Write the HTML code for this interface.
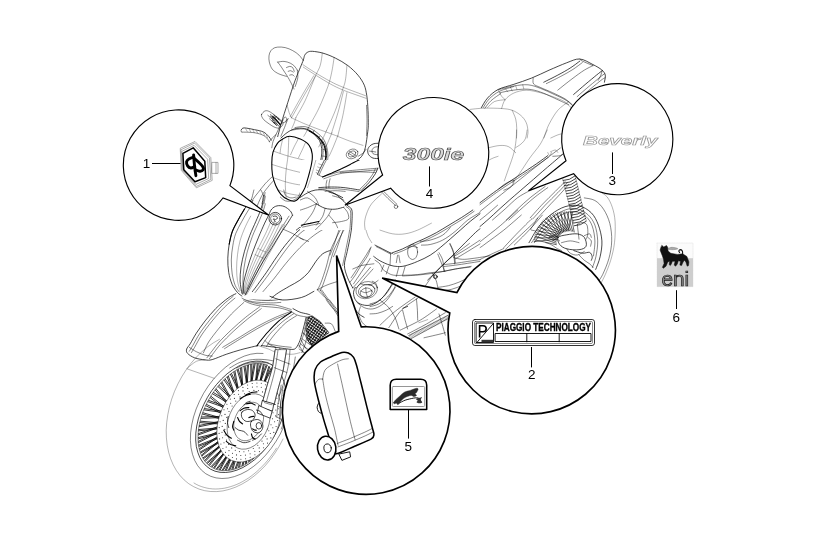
<!DOCTYPE html>
<html><head><meta charset="utf-8"><title>Plates - Emblems</title>
<style>
html,body{margin:0;padding:0;background:#fff;}
svg{display:block;}
text{font-family:"Liberation Sans",Arial,sans-serif;}
.s path,.s line,.s circle,.s ellipse,.s polyline,.s rect{fill:none;stroke:#000;stroke-width:.48;vector-effect:non-scaling-stroke;stroke-linecap:round;stroke-linejoin:round;}
.s .t{stroke-width:.3;}
.s .m{stroke-width:.72;}
.s .b{stroke-width:1.1;}
.s .w{fill:#fff;}
.s .sp{stroke-width:.78;}
.s .sr{stroke-width:.6;}
.s .dot{fill:#333;stroke:none;}
.s .g{stroke:#777;stroke-width:.6;}
.s .k{stroke:#000;stroke-width:.9;}
.s .k1{stroke:#000;stroke-width:1.55;}
.s .p{stroke:#000;stroke-width:2.9;}
.s .mesh{fill:url(#mesh);stroke:#000;stroke-width:.5;}
.s .k8{stroke:#000;stroke-width:.8;}
.s .kh{stroke:#000;stroke-width:1.5;}
.s .g2{stroke:#8a8a8a;stroke-width:.9;fill:#fff;}
.s .ic{fill:#2a2a2a;stroke:#2a2a2a;stroke-width:.4;}
.s .ic2{fill:#333;stroke:none;}
.s .pl{stroke:#000;stroke-width:.45;}
.s .pw{stroke:#000;stroke-width:1.6;fill:none;stroke-linecap:butt;stroke-linejoin:miter;}
.s .dog{fill:#111;stroke:#111;stroke-width:.5;}
.s .dogt{stroke:#111;stroke-width:1.1;}
.s .fl{stroke:#777;stroke-width:.5;fill:#aaa;}
.tx{filter:grayscale(1);}
.b300{font-style:italic;font-weight:bold;font-size:17px;fill:#d8d8d8;stroke:#4a4a4a;stroke-width:.6;}
.bev{font-style:italic;font-weight:bold;font-size:12.5px;fill:#fff;stroke:#999;stroke-width:.6;}
.pt{font-weight:bold;font-size:10.2px;fill:#000;stroke:#000;stroke-width:.35;}
.eni{font-size:20.6px;fill:#8a8a8a;stroke:#1a1a1a;stroke-width:.7;}
.co{fill:#fff;stroke:#000;stroke-width:1.15;stroke-linejoin:miter;}
.ld{stroke:#000;stroke-width:1;fill:none;}
.n{font-size:13.5px;fill:#000;text-anchor:middle;}
</style></head>
<body>
<svg width="817" height="558" viewBox="0 0 817 558">
<rect width="817" height="558" fill="#fff"/>
<g class="s">
<path class="t" d="M283 439L279.2 446.3L274.9 453.2L270.2 459.7L265.1 465.8L259.6 471.3L253.9 476.2L247.9 480.6L241.8 484.2L235.5 487.2L229.2 489.4L223 490.9L216.7 491.6L210.6 491.5L204.7 490.7L199.1 489.1L193.7 486.7L188.7 483.7L184.1 479.9L180 475.5L176.3 470.4L173.2 464.8L170.6 458.7L168.6 452.1L167.2 445.1L166.4 437.8L166.2 430.3L166.7 422.6L167.8 414.7L169.4 406.9L171.7 399.1L174.5 391.4L177.9 383.9L181.8 376.7L186.1 369.9L190.9 363.4L196.1 357.4L201.6 352L207.3 347.1L213.3 342.9L219.5 339.3"/>
<path class="t" d="M276.4 448.2L274.3 451.5L272 454.7L269.7 457.8L267.3 460.8L264.8 463.7L262.2 466.4L259.6 469L256.9 471.5L254.1 473.8L251.3 476L248.4 478.1L245.4 479.9L242.5 481.6L239.5 483.2L236.5 484.5L233.5 485.7L230.4 486.7L227.4 487.5L224.4 488.2L221.4 488.6L218.4 488.9L215.5 489L212.6 488.9L209.7 488.6L206.9 488.1L204.2 487.4L201.5 486.6L198.9 485.6L196.4 484.4L194 483"/>
<path d="M291 394.4L290.4 402.1L289.1 410L286.9 418.1L283.9 426.1L280.3 434L275.9 441.5L271 448.6L265.6 455.2L259.8 461.2L253.7 466.3L247.4 470.7L240.9 474.1L234.4 476.6L228.1 478.1L221.9 478.5L216.1 477.9L210.7 476.3L205.7 473.7L201.4 470.1L197.7 465.7L194.7 460.4L192.5 454.3L191 447.7L190.4 440.5L190.6 432.9L191.7 425L193.5 417L196.2 408.9L199.6 401L203.6 393.3L208.3 386L213.5 379.2L219.2 373L225.2 367.5L231.4 362.8L237.9 359L244.3 356.1L250.7 354.2L257 353.3L263 353.5"/>
<path class="m" d="M271.2 364.5L275.3 367.5L278.8 371.3L281.7 375.9L283.8 381.2L285.3 387.1L285.9 393.6L285.8 400.4L284.9 407.5L283.3 414.7L280.9 422L277.8 429.2L274.2 436.2L269.9 442.9L265.1 449.1L260 454.7L254.5 459.8L248.7 464L242.9 467.5L237 470.1L231.1 471.8L225.5 472.5L220 472.3L215 471.2L210.4 469.1L206.3 466.1L202.8 462.3L199.9 457.7L197.8 452.4L196.3 446.5L195.7 440L195.8 433.2L196.7 426.1L198.3 418.9L200.7 411.6L203.8 404.4L207.4 397.4L211.7 390.7L216.5 384.5L221.6 378.9L227.1 373.8L232.9 369.6L238.7 366.1L244.6 363.5L250.5 361.8L256.1 361.1L261.6 361.3L266.6 362.4L271.2 364.5"/>
<path d="M254.1 458.2L249.8 461.5L245.4 464.4L241 466.7L236.5 468.5L232.2 469.8L227.9 470.5L223.7 470.7L219.8 470.3L216 469.3L212.6 467.8L209.4 465.7L206.6 463.2L204.1 460.1L202 456.6L200.3 452.7L199.1 448.4L198.3 443.8L198 438.9L198.1 433.8L198.6 428.5L199.6 423L201.1 417.5L202.9 412L205.2 406.6L207.8 401.3L210.8 396.1L214.2 391.1L217.8 386.5L221.6 382.1L225.6 378.1L229.9 374.5L234.2 371.4L238.6 368.7L243 366.6L247.4 365L251.8 363.9L256 363.4L260.1 363.4L264 364L267.6 365.2"/>
<path class="t" d="M186.9 368.8L214.2 378.3"/>
<path class="sp" d="M248.6 428.6L259.5 452.7"/>
<path class="sp" d="M247.7 428.9L258.5 453.7"/>
<path class="sp" d="M254.1 422.8L256.4 455.7"/>
<path class="sp" d="M253.6 423.9L255.3 456.6"/>
<path class="sp" d="M247.5 429L253.2 458.5"/>
<path class="sp" d="M246.5 429.1L252.1 459.3"/>
<path class="sp" d="M253.5 424L249.9 461"/>
<path class="sp" d="M252.8 425.1L248.8 461.7"/>
<path class="sp" d="M246.4 429.1L246.5 463.2"/>
<path class="sp" d="M245.5 429L245.4 463.9"/>
<path class="sp" d="M252.7 425.2L243.1 465.1"/>
<path class="sp" d="M252 426.2L242 465.7"/>
<path class="sp" d="M245.4 429L239.7 466.8"/>
<path class="sp" d="M244.5 428.8L238.6 467.2"/>
<path class="sp" d="M251.9 426.3L236.4 468.1"/>
<path class="sp" d="M251 427.1L235.2 468.4"/>
<path class="sp" d="M244.4 428.7L233 469.1"/>
<path class="sp" d="M243.6 428.3L231.9 469.3"/>
<path class="sp" d="M250.9 427.2L229.7 469.8"/>
<path class="sp" d="M250 427.9L228.6 469.9"/>
<path class="sp" d="M243.5 428.2L226.5 470.1"/>
<path class="sp" d="M242.8 427.6L225.4 470.1"/>
<path class="sp" d="M249.8 428L223.3 470.1"/>
<path class="sp" d="M248.9 428.5L222.3 470"/>
<path class="sp" d="M242.7 427.5L220.3 469.8"/>
<path class="sp" d="M242.1 426.8L219.3 469.6"/>
<path class="sp" d="M248.7 428.6L217.4 469.1"/>
<path class="sp" d="M247.8 428.9L216.5 468.8"/>
<path class="sp" d="M242 426.7L214.6 468.1"/>
<path class="sp" d="M241.6 425.8L213.8 467.7"/>
<path class="sp" d="M247.6 428.9L212.1 466.8"/>
<path class="sp" d="M246.7 429.1L211.3 466.3"/>
<path class="sp" d="M241.5 425.6L209.7 465.2"/>
<path class="sp" d="M241.2 424.6L208.9 464.6"/>
<path class="sp" d="M246.5 429.1L207.5 463.3"/>
<path class="sp" d="M245.6 429.1L206.8 462.6"/>
<path class="sp" d="M241.2 424.5L205.5 461.1"/>
<path class="sp" d="M241 423.4L204.9 460.3"/>
<path class="sp" d="M245.5 429L203.7 458.6"/>
<path class="sp" d="M244.6 428.8L203.2 457.7"/>
<path class="sp" d="M241 423.2L202.2 455.8"/>
<path class="sp" d="M241 422.1L201.8 454.9"/>
<path class="sp" d="M244.5 428.8L200.9 452.8"/>
<path class="sp" d="M243.7 428.4L200.6 451.8"/>
<path class="sp" d="M241 421.9L199.9 449.6"/>
<path class="sp" d="M241.2 420.7L199.6 448.5"/>
<path class="sp" d="M243.5 428.3L199.1 446.2"/>
<path class="sp" d="M242.8 427.7L198.9 445"/>
<path class="sp" d="M241.2 420.5L198.6 442.6"/>
<path class="sp" d="M241.5 419.3L198.5 441.3"/>
<path class="sp" d="M242.7 427.6L198.4 438.8"/>
<path class="sp" d="M242.2 426.9L198.4 437.5"/>
<path class="sp" d="M241.5 419.2L198.4 434.9"/>
<path class="sp" d="M242 418L198.5 433.6"/>
<path class="sp" d="M242.1 426.8L198.7 430.8"/>
<path class="sp" d="M241.6 425.9L198.9 429.5"/>
<path class="sp" d="M242.1 417.9L199.3 426.7"/>
<path class="sp" d="M242.6 416.7L199.5 425.4"/>
<path class="sp" d="M241.6 425.7L200.1 422.6"/>
<path class="sp" d="M241.2 424.7L200.5 421.2"/>
<path class="sp" d="M242.7 416.6L201.2 418.4"/>
<path class="sp" d="M243.4 415.6L201.6 417"/>
<path class="sp" d="M241.2 424.6L202.6 414.1"/>
<path class="sp" d="M241 423.5L203.1 412.8"/>
<path class="sp" d="M243.5 415.4L204.2 409.9"/>
<path class="sp" d="M244.3 414.5L204.7 408.6"/>
<path class="sp" d="M241 423.4L206 405.8"/>
<path class="sp" d="M241 422.2L206.6 404.4"/>
<path class="sp" d="M244.4 414.4L208 401.7"/>
<path class="sp" d="M245.3 413.6L208.7 400.4"/>
<path class="sp" d="M241 422L210.3 397.7"/>
<path class="sp" d="M241.1 420.8L211.1 396.4"/>
<path class="sp" d="M245.4 413.5L212.7 393.9"/>
<path class="sp" d="M246.4 412.9L213.6 392.6"/>
<path class="sp" d="M241.2 420.7L215.3 390.1"/>
<path class="sp" d="M241.5 419.5L216.2 389"/>
<path class="sp" d="M246.5 412.8L218.1 386.6"/>
<path class="sp" d="M247.5 412.3L219.1 385.5"/>
<path class="sp" d="M241.5 419.3L221.1 383.2"/>
<path class="sp" d="M241.9 418.1L222.1 382.2"/>
<path class="sp" d="M247.6 412.3L224.1 380.1"/>
<path class="sp" d="M248.6 412L225.2 379.1"/>
<path class="sp" d="M242 418L227.3 377.2"/>
<path class="sp" d="M242.6 416.9L228.4 376.3"/>
<path class="sp" d="M248.7 412L230.5 374.5"/>
<path class="sp" d="M249.7 411.9L231.6 373.7"/>
<path class="sp" d="M242.7 416.7L233.9 372.1"/>
<path class="sp" d="M243.3 415.7L235 371.4"/>
<path class="sp" d="M249.8 411.9L237.2 370"/>
<path class="sp" d="M250.7 412L238.3 369.4"/>
<path class="sp" d="M243.4 415.5L240.6 368.2"/>
<path class="sp" d="M244.2 414.6L241.7 367.7"/>
<path class="sp" d="M250.8 412L244 366.7"/>
<path class="sp" d="M251.7 412.3L245.1 366.2"/>
<path class="sp" d="M244.3 414.5L247.4 365.5"/>
<path class="sp" d="M245.2 413.7L248.5 365.2"/>
<path class="sp" d="M251.8 412.4L250.7 364.6"/>
<path class="sp" d="M252.6 412.8L251.8 364.4"/>
<path class="sp" d="M245.3 413.6L254 364.1"/>
<path class="sp" d="M246.3 412.9L255.1 364"/>
<path class="sp" d="M252.7 412.9L257.2 363.9"/>
<path class="sp" d="M253.4 413.5L258.2 363.9"/>
<path class="sp" d="M246.4 412.9L260.3 364"/>
<path class="sp" d="M247.3 412.4L261.3 364.1"/>
<path class="sp" d="M253.5 413.6L263.3 364.4"/>
<path class="sp" d="M254 414.4L264.2 364.7"/>
<path class="sp" d="M247.5 412.3L266.1 365.2"/>
<path class="sp" d="M248.5 412L267 365.6"/>
<path class="sp" d="M254.1 414.5L268.8 366.4"/>
<path class="sp" d="M254.5 415.4L269.7 366.8"/>
<path class="sp" d="M248.6 412L271.3 367.8"/>
<path class="sp" d="M249.6 411.9L272.1 368.3"/>
<ellipse class="w" cx="248.9" cy="421.1" rx="29.4" ry="43" transform="rotate(24.3 248.9 421.1)"/>
<ellipse cx="248.7" cy="421.5" rx="20.2" ry="28.8" transform="rotate(22 248.7 421.5)"/>
<ellipse cx="248.7" cy="421.5" rx="14" ry="20" transform="rotate(22 248.7 421.5)"/>
<circle class="dot" cx="265.4" cy="384.7" r="0.55"/><circle class="dot" cx="269.1" cy="386.9" r="0.55"/><circle class="dot" cx="272.3" cy="389.9" r="0.55"/><circle class="dot" cx="274.9" cy="393.7" r="0.55"/><circle class="dot" cx="276.9" cy="398.2" r="0.55"/><circle class="dot" cx="278.2" cy="403.3" r="0.55"/><circle class="dot" cx="278.7" cy="408.8" r="0.55"/><circle class="dot" cx="278.6" cy="414.6" r="0.55"/><circle class="dot" cx="277.7" cy="420.5" r="0.55"/><circle class="dot" cx="276.1" cy="426.5" r="0.55"/><circle class="dot" cx="273.8" cy="432.4" r="0.55"/><circle class="dot" cx="270.9" cy="437.9" r="0.55"/><circle class="dot" cx="267.5" cy="443.1" r="0.55"/><circle class="dot" cx="263.6" cy="447.7" r="0.55"/><circle class="dot" cx="259.4" cy="451.6" r="0.55"/><circle class="dot" cx="254.9" cy="454.8" r="0.55"/><circle class="dot" cx="250.2" cy="457.2" r="0.55"/><circle class="dot" cx="245.6" cy="458.7" r="0.55"/><circle class="dot" cx="240.9" cy="459.2" r="0.55"/><circle class="dot" cx="236.5" cy="458.9" r="0.55"/><circle class="dot" cx="232.4" cy="457.5" r="0.55"/><circle class="dot" cx="228.7" cy="455.3" r="0.55"/><circle class="dot" cx="225.5" cy="452.3" r="0.55"/><circle class="dot" cx="222.9" cy="448.5" r="0.55"/><circle class="dot" cx="220.9" cy="444" r="0.55"/><circle class="dot" cx="219.6" cy="438.9" r="0.55"/><circle class="dot" cx="219.1" cy="433.4" r="0.55"/><circle class="dot" cx="219.2" cy="427.6" r="0.55"/><circle class="dot" cx="220.1" cy="421.7" r="0.55"/><circle class="dot" cx="221.7" cy="415.7" r="0.55"/><circle class="dot" cx="224" cy="409.8" r="0.55"/><circle class="dot" cx="226.9" cy="404.3" r="0.55"/><circle class="dot" cx="230.3" cy="399.1" r="0.55"/><circle class="dot" cx="234.2" cy="394.5" r="0.55"/><circle class="dot" cx="238.4" cy="390.6" r="0.55"/><circle class="dot" cx="242.9" cy="387.4" r="0.55"/><circle class="dot" cx="247.6" cy="385" r="0.55"/><circle class="dot" cx="252.2" cy="383.5" r="0.55"/><circle class="dot" cx="256.9" cy="383" r="0.55"/><circle class="dot" cx="261.3" cy="383.3" r="0.55"/><circle class="dot" cx="265.3" cy="389" r="0.55"/><circle class="dot" cx="268.8" cy="391.6" r="0.55"/><circle class="dot" cx="271.6" cy="395.2" r="0.55"/><circle class="dot" cx="273.8" cy="399.5" r="0.55"/><circle class="dot" cx="275.2" cy="404.5" r="0.55"/><circle class="dot" cx="275.8" cy="410" r="0.55"/><circle class="dot" cx="275.6" cy="415.8" r="0.55"/><circle class="dot" cx="274.6" cy="421.8" r="0.55"/><circle class="dot" cx="272.8" cy="427.8" r="0.55"/><circle class="dot" cx="270.3" cy="433.5" r="0.55"/><circle class="dot" cx="267.1" cy="438.9" r="0.55"/><circle class="dot" cx="263.4" cy="443.8" r="0.55"/><circle class="dot" cx="259.2" cy="447.9" r="0.55"/><circle class="dot" cx="254.8" cy="451.3" r="0.55"/><circle class="dot" cx="250.1" cy="453.7" r="0.55"/><circle class="dot" cx="245.4" cy="455.1" r="0.55"/><circle class="dot" cx="240.8" cy="455.5" r="0.55"/><circle class="dot" cx="236.5" cy="454.9" r="0.55"/><circle class="dot" cx="232.5" cy="453.2" r="0.55"/><circle class="dot" cx="229" cy="450.6" r="0.55"/><circle class="dot" cx="226.2" cy="447" r="0.55"/><circle class="dot" cx="224" cy="442.7" r="0.55"/><circle class="dot" cx="222.6" cy="437.7" r="0.55"/><circle class="dot" cx="222" cy="432.2" r="0.55"/><circle class="dot" cx="222.2" cy="426.4" r="0.55"/><circle class="dot" cx="223.2" cy="420.4" r="0.55"/><circle class="dot" cx="225" cy="414.4" r="0.55"/><circle class="dot" cx="227.5" cy="408.7" r="0.55"/><circle class="dot" cx="230.7" cy="403.3" r="0.55"/><circle class="dot" cx="234.4" cy="398.4" r="0.55"/><circle class="dot" cx="238.6" cy="394.3" r="0.55"/><circle class="dot" cx="243" cy="390.9" r="0.55"/><circle class="dot" cx="247.7" cy="388.5" r="0.55"/><circle class="dot" cx="252.4" cy="387.1" r="0.55"/><circle class="dot" cx="257" cy="386.7" r="0.55"/><circle class="dot" cx="261.3" cy="387.3" r="0.55"/><circle class="dot" cx="262.5" cy="391.9" r="0.55"/><circle class="dot" cx="266.1" cy="394.3" r="0.55"/><circle class="dot" cx="269.1" cy="397.8" r="0.55"/><circle class="dot" cx="271.3" cy="402.1" r="0.55"/><circle class="dot" cx="272.6" cy="407.2" r="0.55"/><circle class="dot" cx="273" cy="412.8" r="0.55"/><circle class="dot" cx="272.5" cy="418.8" r="0.55"/><circle class="dot" cx="271" cy="424.8" r="0.55"/><circle class="dot" cx="268.8" cy="430.7" r="0.55"/><circle class="dot" cx="265.7" cy="436.2" r="0.55"/><circle class="dot" cx="262" cy="441.1" r="0.55"/><circle class="dot" cx="257.8" cy="445.3" r="0.55"/><circle class="dot" cx="253.3" cy="448.5" r="0.55"/><circle class="dot" cx="248.6" cy="450.7" r="0.55"/><circle class="dot" cx="243.9" cy="451.8" r="0.55"/><circle class="dot" cx="239.4" cy="451.6" r="0.55"/><circle class="dot" cx="235.3" cy="450.3" r="0.55"/><circle class="dot" cx="231.7" cy="447.9" r="0.55"/><circle class="dot" cx="228.7" cy="444.4" r="0.55"/><circle class="dot" cx="226.5" cy="440.1" r="0.55"/><circle class="dot" cx="225.2" cy="435" r="0.55"/><circle class="dot" cx="224.8" cy="429.4" r="0.55"/><circle class="dot" cx="225.3" cy="423.4" r="0.55"/><circle class="dot" cx="226.8" cy="417.4" r="0.55"/><circle class="dot" cx="229" cy="411.5" r="0.55"/><circle class="dot" cx="232.1" cy="406" r="0.55"/><circle class="dot" cx="235.8" cy="401.1" r="0.55"/><circle class="dot" cx="240" cy="396.9" r="0.55"/><circle class="dot" cx="244.5" cy="393.7" r="0.55"/><circle class="dot" cx="249.2" cy="391.5" r="0.55"/><circle class="dot" cx="253.9" cy="390.4" r="0.55"/><circle class="dot" cx="258.4" cy="390.6" r="0.55"/>
<clipPath id="cp958347567"><path clip-rule="evenodd" d="M-10 -10H830V570H-10ZM300 160L400 160L400 230L300 230Z"/></clipPath><g clip-path="url(#cp958347567)">
<path class="m" d="M277.7 136.6C278.3 134.3 279.8 128.5 281.4 122.8C283.1 117.2 285.4 109.9 287.7 102.8C290 95.7 292.7 87.1 295.2 80.2C297.8 73.3 301.2 65.5 302.8 61.4C304.4 57.2 303.9 56.6 304.8 55.1C305.6 53.5 306.5 52.7 307.8 52.1C309 51.5 309.8 51.2 312.3 51.3C314.8 51.5 319 52 322.8 53.1C326.7 54.2 331.2 56 335.4 58.1C339.6 60.2 344.2 62.8 347.9 65.6C351.7 68.5 355.3 71.9 358 75.2C360.7 78.4 362.8 81.8 364.3 85.2C365.7 88.6 366.1 91.6 366.8 95.7C367.4 99.9 367.8 105.4 368 110.3C368.3 115.2 368.3 121.8 368.3 125.4C368.2 128.9 368.3 127.7 367.8 131.4C367.3 135.1 366.3 143.5 365.3 147.7C364.2 151.9 363.2 154.2 361.5 156.5C359.8 158.8 357.5 160 355.2 161.5C352.9 163 350.6 163.9 347.7 165.3C344.8 166.6 340.7 168.1 337.7 169.5C334.6 170.9 331.7 172.3 329.1 173.5C326.5 174.8 323.3 176.3 322.1 176.8"/>
<path d="M366.5 105.3C366.6 107.8 367 115.3 367 120.3C367 125.4 366.6 132.9 366.5 135.4"/>
<path class="t" d="M322.3 53.1C322 55.1 321.5 61.2 320.3 65.1C319.2 69 317.8 70.6 315.3 76.4C312.8 82.3 308.5 93.4 305.3 100.3C302 107.2 297.3 114.9 295.7 117.8"/>
<path class="t" d="M315.3 76.4C313.2 80 306.7 90.9 302.8 97.8C298.8 104.7 293.4 114.5 291.5 117.8"/>
<path class="t" d="M313.8 75.7C311.7 79.2 305.2 89.9 301.3 96.8C297.3 103.6 292.1 113.3 290.2 116.6"/>
<path class="t" d="M334.1 57.6C333.7 60.1 332.7 67.9 331.6 72.7C330.6 77.5 330 80.6 327.9 86.5C325.8 92.3 322 101.5 319.1 107.8C316.2 114.1 311.8 121.4 310.3 124.1"/>
<path class="t" d="M346.9 65.6C346.7 68.1 346.2 76.1 345.4 80.2C344.7 84.3 344.1 85.2 342.4 90.2C340.7 95.2 338 103.6 335.4 110.3C332.8 117 328.1 127 326.6 130.4"/>
<path class="t" d="M343.4 91.5C342.5 95 339.9 105.9 337.9 112.8C335.9 119.7 332.7 129.5 331.6 132.9"/>
<path class="t" d="M346.9 92.7C346.3 96.5 344.4 108.2 342.9 115.3C341.4 122.4 338.7 132 337.9 135.4"/>
<path class="t" d="M302.8 64.6C304.9 66 310.7 69.9 315.3 72.7C319.9 75.5 325.8 79 330.4 81.4C335 83.9 337.1 84.8 342.9 87.2C348.8 89.6 361.7 94.3 365.5 95.7"/>
<path class="t" d="M303.3 67.1C305.5 68.6 312.1 72.9 316.6 75.7C321.1 78.5 325.9 81.5 330.4 84C334.9 86.4 337.5 87.8 343.4 90.2C349.4 92.6 362.2 96.9 366 98.3"/>
<path class="t" d="M291.5 117.8C293.8 118.9 300.5 122.1 305.3 124.1C310.1 126.1 315.3 128 320.3 129.9C325.4 131.8 330.8 133.6 335.4 135.4C340 137.2 343.3 138.7 347.9 140.4C352.5 142.1 360.5 144.6 363 145.4"/>
<path class="t" d="M287.2 105.3C287.5 106.5 288.5 110.7 289.2 112.8C289.9 114.9 291.1 117 291.5 117.8"/>
<path d="M303.3 60.6C302.6 59.7 300.8 56.8 299 55.1C297.3 53.4 295 51.8 292.7 50.6C290.4 49.3 287.7 48.2 285.2 47.6C282.7 47 279.8 46.9 277.7 47.1C275.6 47.3 274 47.8 272.7 48.8C271.3 49.8 270.3 51.4 269.6 53.1C269 54.8 268.8 56.9 268.9 58.9C269 60.9 269.4 63.2 270.2 65.1C270.9 67 271.7 68.7 273.2 70.2C274.6 71.6 276.7 72.9 278.9 73.9C281.2 75 285.2 76 286.5 76.4"/>
<path d="M277.7 62.1C278.7 62 281.9 61.2 284 61.4C286 61.5 288.4 62.3 290.2 63.1C292 64 293.6 65.2 294.7 66.4C295.9 67.6 296.8 69.5 297.3 70.2"/>
<path d="M277.7 62.1C278.3 63 280.3 65.5 281.4 67.1C282.6 68.8 283.6 70.4 284.7 72.2C285.8 73.9 287 75.5 288.2 77.7C289.5 79.9 291.3 83.3 292.2 85.2C293.2 87.1 293.7 88.3 294 89"/>
<path d="M286.5 67.6C287 67.4 288.7 66.4 289.7 66.4C290.8 66.4 292 66.8 292.7 67.6C293.5 68.5 294 70.8 294.2 71.4"/>
<path d="M288.2 71.4C288.6 71.3 289.9 70.5 290.7 70.7C291.6 70.8 292.8 71.9 293.2 72.2"/>
<path d="M289.7 75.2C290.1 75.1 291.5 74.5 292.2 74.7C293 74.8 293.9 75.9 294.2 76.2"/>
<path d="M297.3 70.2C297.3 71.4 298.1 75 297.8 77.7C297.4 80.4 295.7 85 295.2 86.5"/>
</g>
<clipPath id="cp958347567"><path clip-rule="evenodd" d="M-10 -10H830V570H-10ZM300 160L400 160L400 230L300 230Z"/></clipPath><g clip-path="url(#cp958347567)">
<path class="b" d="M282.7 139C284.7 137.8 286.8 136.3 289.7 136.3C292.7 136.3 297 137.5 300.3 139C303.5 140.4 307.1 142.6 309 145.1C311 147.6 311.8 150.7 312.2 153.9C312.6 157.1 312.2 160.9 311.7 164.5C311.2 168 310.1 171.5 309 175C308 178.5 307 182 305.5 185.5C304.1 189 302 193.5 300.3 196.1C298.5 198.6 297 200.4 295 201C292.9 201.6 290.3 200.7 288 199.6C285.6 198.5 283 196.7 280.9 194.3C278.9 192 277.1 188.8 275.7 185.5C274.3 182.3 273.2 178.8 272.5 175C271.9 171.2 271.7 166.5 271.8 162.7C271.9 158.9 272.1 155.4 273 152.2C274 148.9 275.8 145.6 277.4 143.4C279 141.2 280.6 140.2 282.7 139Z"/>
<path class="t" d="M273.9 151.3C276.3 152.1 283 154.6 288 156C292.9 157.5 299.8 159 303.8 160.1C307.7 161.2 310.4 162.3 311.7 162.7"/>
<path class="t" d="M272.2 164.5C274.5 165.2 281.5 167.5 286.2 168.8C290.9 170.2 296.3 171.5 300.3 172.4C304.2 173.2 308.3 173.8 309.9 174.1"/>
<path class="t" d="M273 177.6C275.2 178.4 282 180.8 286.2 182C290.5 183.2 295.1 184.2 298.5 184.7C301.9 185.1 305.1 184.7 306.4 184.7"/>
<path class="t" d="M278.3 189.9C279.9 190.5 284.3 192.5 288 193.4C291.6 194.4 298.2 195.3 300.3 195.7"/>
<path class="t" d="M288.8 136.7C288.7 139.9 288.4 150.2 288 155.7C287.5 161.2 286.6 165 286.2 169.7C285.8 174.4 285.3 178.9 285.3 183.8C285.3 188.6 286.1 196.2 286.2 198.7"/>
<path class="t" d="M298.5 138.5C297.8 139.9 295.4 144.2 294.1 146.9C292.8 149.6 291.2 153.5 290.6 154.8"/>
<path class="t" d="M305.5 142.5C304.9 143.8 303.2 147.9 302 150.4C300.8 152.9 299.1 156.5 298.5 157.8"/>
<path class="t" d="M282.7 139C282.4 140.3 281.4 144.5 280.9 146.9C280.5 149.2 280.2 152 280.1 153"/>
<path class="m" d="M280.9 138.1C282.1 137.1 285.3 133.6 288 132C290.6 130.3 293.5 128.9 296.8 128.4C300 128 303.8 128 307.3 129.3C310.8 130.6 314.9 133.7 317.8 136.3C320.8 139 323.4 141.9 324.9 145.1C326.3 148.4 326.8 152.2 326.6 155.7C326.5 159.2 325.1 163.3 324 166.2C322.8 169.1 321 171.1 319.6 173.2C318.1 175.3 315.9 177.9 315.2 178.9"/>
<path class="b" d="M309 130.7C310.5 131.7 315.3 134.3 317.8 136.7C320.3 139.1 322.6 142 324 145.1C325.3 148.3 326 152.2 325.9 155.7C325.8 159.1 324.7 162.9 323.5 165.9C322.3 168.8 319.5 172.3 318.7 173.6"/>
<path d="M291.5 130.2C293.5 130 300 128.4 303.8 129C307.6 129.6 311.4 131.6 314.3 133.7C317.2 135.8 319.9 138.5 321.3 141.6C322.8 144.7 323.1 148.6 323.1 152.2C323.1 155.7 322.4 159.5 321.3 162.7C320.3 165.9 317.7 170 317 171.5"/>
<path d="M295 127.6C296.8 127.4 302 126 305.5 126.7C309 127.4 313 129.8 316.1 132C319.1 134.2 322.1 136.8 324 139.9C325.9 142.9 326.9 146.9 327.5 150.4C328.1 153.9 328.1 157.6 327.5 160.9C326.9 164.3 325.4 167.8 324 170.6C322.5 173.4 319.6 176.5 318.7 177.6"/>
<path class="m" d="M314.3 134.6C315.2 135.6 318.4 138.4 319.6 140.7C320.8 143.1 321.4 145.9 321.7 148.6C322 151.4 321.8 154.8 321.3 157.4C320.9 160.1 319.6 163.3 319.2 164.5"/>
<path d="M317.8 138.1L319.9 136.3"/>
<path d="M321.3 143.4L324 142"/>
<path d="M323.1 149.5L326.1 149"/>
<path d="M322.7 156L326.3 156.5"/>
<path d="M321 162.7L324.5 164.1"/>
<path d="M307.3 130.2L308.3 127.6"/>
<path d="M312.6 132.8L314.3 130.2"/>
<path class="t" d="M295.9 117.7C295.6 118.6 294.8 121.4 294.1 123.2C293.4 125 292.2 127.6 291.8 128.4"/>
<path class="t" d="M310.3 124.1C309.8 125.1 308.4 128.2 307.3 130.2C306.2 132.3 304.4 135.3 303.8 136.3"/>
<path class="t" d="M326.6 130.4C325.9 132 323.5 137.1 322.2 139.9C320.9 142.6 319.3 145.7 318.7 146.9"/>
<path class="t" d="M331.9 132.8C331.2 134.6 328.8 140.3 327.5 143.4C326.2 146.4 324.6 150 324 151.3"/>
<path class="t" d="M337.9 135.5C337.1 137.4 334.7 143.5 333.3 146.9C331.9 150.3 329.9 154.5 329.2 156"/>
<path class="t" d="M324.9 168C327.2 168.7 334.2 171 338.9 172.4C343.6 173.7 350.6 175.3 353 175.9"/>
<ellipse cx="352.1" cy="153.9" rx="6.1" ry="4.6" transform="rotate(-25 352.1 153.9)"/>
<ellipse cx="352.1" cy="153.9" rx="3.9" ry="2.6" transform="rotate(-25 352.1 153.9)"/>
<path d="M349.4 151.3L356.5 156"/>
<path d="M348 153L355.1 157.4"/>
<path d="M261.6 114.4C262.1 113.4 263.7 111.3 265.1 110.9C266.6 110.5 267.8 110.6 270.4 112.1C273 113.7 278.8 118.2 280.9 120.2C283 122.2 283.3 122.8 283 124.1C282.8 125.3 281.1 127.4 279.5 127.9C278 128.4 276.3 128 273.9 126.9C271.5 125.7 267.1 122.5 265.1 120.9C263.1 119.3 262.6 118.1 262 117C261.4 115.9 261.1 115.4 261.6 114.4Z"/>
<path d="M267.8 115.3L273.9 120.5"/>
<path d="M270.4 114.4L276.5 119.7"/>
<path d="M272.2 117.9L278.3 123.2"/>
<path d="M269.5 118.8L276 124.9"/>
<path class="m" d="M270.4 116.1C271.3 116.7 274.1 118.3 275.7 119.7C277.3 121 279.3 123.3 280.1 124.1"/>
<path class="m" d="M241.4 129.7C241.9 129.4 241.9 127.9 244.1 127.9C246.2 127.9 251.4 129 254.6 129.7C257.8 130.3 261 130.8 263.4 132C265.7 133.1 267.3 135 268.6 136.3C270 137.7 270.8 139.6 271.3 140.2"/>
<path d="M241.9 132.1C243.8 132.2 249.6 132.1 252.8 132.5C256.1 132.9 259.3 133.7 261.6 134.6C264 135.5 265.6 136.9 266.9 138.1C268.2 139.3 269.1 141.3 269.5 142"/>
<path d="M241.4 129.7C241.3 129.9 240.8 130.7 240.9 131.1C241 131.5 241.8 132 241.9 132.1"/>
<path d="M282.7 120.5C282.1 121.7 280.3 125.2 279.2 127.6C278.1 129.9 277 132.3 276 134.6C275 136.9 273.7 139.4 273 141.6C272.3 143.8 272 146.7 271.8 147.8"/>
<path d="M288 118.8C287.4 120.2 285.6 124.6 284.5 127.6C283.3 130.5 281.5 134.9 280.9 136.3"/>
<path d="M280.9 123.2C281.5 123 283.3 123 284.5 122.3C285.6 121.6 287.4 119.4 288 118.8"/>
<path d="M269.5 141.6C270 141 271.1 139.3 272.2 138.1C273.2 136.9 275.4 135.2 276 134.6"/>
<path d="M272.2 176.8C271 177.9 267.5 181.1 265.1 183.8C262.8 186.4 260.2 189.9 258.1 192.6C256.1 195.2 254.3 197 252.8 199.6C251.4 202.2 249.9 206.6 249.3 208"/>
<path d="M273.9 180.3C272.9 181.4 269.8 184.7 267.8 187.3C265.7 189.9 263.5 192.6 261.6 196.1C259.7 199.5 257.2 206 256.3 208"/>
<path d="M265.1 192.6C264.8 194 263.8 198.8 263.4 201.3C262.9 203.9 262.6 206.9 262.5 208"/>
<path d="M312.6 178.5C314 179.1 318.1 181.1 321.3 182C324.6 182.9 328.1 183.3 331.9 183.8C335.7 184.2 340.1 184.7 344.2 184.7C348.3 184.7 352.2 184.5 356.5 183.8C360.8 183 367.7 180.8 370 180.3"/>
<path d="M317.8 187.3C319.6 187.6 324.3 188.7 328.4 189C332.5 189.4 337.7 189.4 342.4 189.4C347.1 189.4 354.1 189.1 356.5 189"/>
<path d="M321.3 176.8C322.5 177.3 326.8 179.1 328.4 180.3C330 181.4 330.6 183.2 331 183.8"/>
<path d="M305.5 189C306.7 189.6 309.9 191.7 312.6 192.6C315.2 193.4 317.5 193.7 321.3 194.3C325.1 194.9 330.7 194.9 335.4 196.1C340.1 197.2 347.1 200.5 349.4 201.3"/>
<path d="M324.9 190.8C326.6 191.1 331.9 191.4 335.4 192.6C338.9 193.7 343 195.8 345.9 197.8C348.9 199.9 351.8 203.7 353 204.9"/>
<path class="b" d="M272.7 116.3C273.3 117 275.3 118.8 276.5 120.2C277.8 121.6 279.6 124 280.2 124.8"/>
<path class="m" d="M271.5 118.1C272.1 118.7 274.1 120.6 275.3 121.9C276.5 123.3 278.2 125.5 278.8 126.2"/>
<path class="m" d="M273.9 114.9L276 117.7"/>
<path class="m" d="M276 116.3L278.5 119.5"/>
<path class="m" d="M278.1 118.1L280.6 121.2"/>
<path class="m" d="M272.2 120.5L274.3 123.4"/>
<path class="m" d="M274.3 122.3L276.7 125.5"/>
<path d="M282.7 120.5C283 120 284.2 117.4 284.8 117C285.4 116.7 286.4 117.6 286.6 118.4C286.7 119.3 286 121.7 285.9 122.3"/>
<path class="t" d="M245.8 129L247.2 131.4"/>
<path class="t" d="M249.3 129.3L250.7 131.8"/>
<path class="t" d="M252.8 129.8L254.2 132.3"/>
<path class="t" d="M256.3 130.7L257.8 133.2"/>
<path class="t" d="M259.9 131.8L261.3 134.2"/>
<path class="t" d="M263.4 133.2L264.8 135.6"/>
<path class="t" d="M266.5 135.3L267.6 137.8"/>
</g>
<clipPath id="cp958347567"><path clip-rule="evenodd" d="M-10 -10H830V570H-10ZM300 160L400 160L400 230L300 230Z"/></clipPath><g clip-path="url(#cp958347567)">
<clipPath id="cl43338563"><rect x="0.0" y="0.0" width="817.0" height="204.0"/></clipPath><g clip-path="url(#cl43338563)">
<path class="m" d="M251.3 199.7C249.8 201.9 245.1 208.6 242.5 212.8C239.9 217.1 237.4 221 235.5 225.1C233.5 229.2 231.9 233.3 230.7 237.4C229.6 241.5 229.1 245.3 228.6 249.7C228.2 254.1 227.8 259.1 227.9 263.8C228 268.5 228.6 273.8 229.3 277.8C230 281.9 231.5 286.3 232 288"/>
<path d="M253 200.5C251.6 202.7 246.9 209.5 244.3 213.7C241.6 218 239.2 221.9 237.2 226C235.3 230.1 233.6 234.2 232.5 238.3C231.3 242.4 230.8 246.2 230.4 250.6C229.9 255 229.6 260 229.7 264.7C229.8 269.3 230.4 274.8 231.1 278.7C231.8 282.6 233.3 286.5 233.7 288"/>
<path d="M247.8 211.1C246.8 213.4 243.5 219.9 242 225.1C240.4 230.4 239.3 236.8 238.5 242.7C237.6 248.6 237 254.4 236.7 260.3C236.4 266.1 236.4 273.2 236.7 277.8C237 282.5 238.2 286.3 238.5 288"/>
<path d="M249.5 212C248.6 214.3 245.3 220.7 243.7 226C242.2 231.3 241.1 237.7 240.2 243.6C239.3 249.4 238.7 255.3 238.5 261.1C238.2 267 238.2 274.2 238.5 278.7C238.7 283.2 239.9 286.5 240.2 288"/>
<path class="m" d="M263.6 195.3C263.2 197.3 262.3 203.5 261.3 207.6C260.3 211.7 259.5 214.6 257.8 219.9C256 225.1 252.8 233 250.8 239.2C248.7 245.3 246.9 251.2 245.5 256.8C244 262.3 242.8 267.3 242 272.6C241.1 277.8 240.5 285.4 240.2 288"/>
<path d="M265.3 196.1C265 198.2 264 204.3 263 208.4C262.1 212.5 261.3 215.5 259.5 220.7C257.8 226 254.6 233.9 252.5 240.1C250.5 246.2 248.7 252.1 247.2 257.6C245.8 263.2 244.6 268.4 243.7 273.4C242.8 278.5 242.3 285.6 242 288"/>
<path d="M253.9 190C253.6 191.2 252.6 195.4 252.2 197C251.7 198.6 251.4 199.2 251.3 199.7"/>
<path d="M260.9 190C261.2 190.6 262.3 192.6 262.7 193.5C263.1 194.4 263.4 195 263.6 195.3"/>
<path class="m" d="M269.7 212.8C270 212.2 270.5 210.1 271.5 209C272.4 207.9 273.6 206.7 275.3 206.2C277.1 205.6 279.7 205 282 205.5C284.3 205.9 287.3 207.5 289 209C290.8 210.4 292.2 212.7 292.6 214.2C292.9 215.8 291.4 217.5 291.2 218.1"/>
<path class="m" d="M269.7 212.8C268.6 215.5 265 223.1 262.7 228.6C260.4 234.2 257.9 240.4 255.7 246.2C253.5 252.1 251.3 258.5 249.5 263.8C247.8 269 246.3 273.8 245.1 277.8C244 281.9 242.9 286.3 242.5 288"/>
<path class="m" d="M291.2 218.1C289.9 220 286.5 225.3 283.8 229.5C281.1 233.8 277.9 238.5 275 243.6C272.1 248.7 268.8 255.1 266.2 260.3C263.6 265.4 261.2 269.7 259.2 274.3C257.1 278.9 254.8 285.7 253.9 288"/>
<path d="M271.8 214.6C270.7 217.2 267.1 224.8 264.8 230.4C262.5 236 259.9 242.1 257.8 248C255.6 253.8 253.5 260.3 251.8 265.5C250.1 270.8 248.5 275.8 247.4 279.6C246.3 283.3 245.5 286.6 245.1 288"/>
<path d="M288.7 219C287.5 220.9 284.3 226.2 281.7 230.4C279 234.6 275.8 239.3 272.9 244.5C270 249.6 266.7 256 264.1 261.1C261.5 266.3 259.1 270.7 257.1 275.2C255.1 279.7 253 285.9 252.2 288"/>
<path d="M274.1 225.1C272.9 227.8 269.3 235.7 267.1 240.9C264.9 246.2 262.9 251.5 260.9 256.8C259 262 257.1 267.3 255.3 272.6C253.6 277.8 251.2 285.4 250.4 288"/>
<path d="M276.8 226C275.6 228.6 271.9 236.5 269.7 241.8C267.5 247.1 265.6 252.4 263.6 257.6C261.6 262.9 259.5 268.4 257.8 273.4C256 278.5 253.8 285.6 253 288"/>
<path d="M279.4 226.5C278.2 229.2 274.6 237.4 272.4 242.7C270.2 248 268.2 253.2 266.2 258.5C264.2 263.8 262.3 269.4 260.6 274.3C258.8 279.2 256.5 285.7 255.7 288"/>
<path d="M282 227.2C280.8 230 277.2 238.2 275 243.6C272.8 248.9 270.8 254.1 268.8 259.4C266.9 264.7 264.8 270.4 263 275.2C261.3 280 259.1 285.9 258.3 288"/>
<path d="M284.7 227.8C283.5 230.5 279.8 239 277.6 244.5C275.4 249.9 273.5 255 271.5 260.3C269.5 265.5 267.3 271.4 265.5 276.1C263.8 280.7 261.7 286 260.9 288"/>
<path class="m" d="M275 212.8C276.4 212.8 278.4 213.6 279.4 214.6C280.3 215.6 280.9 217.5 280.6 219C280.3 220.4 278.9 222.6 277.6 223.4C276.3 224.2 274.2 224.3 272.9 223.7C271.6 223.1 270 221.3 269.7 219.9C269.4 218.4 270.3 216.1 271.1 214.9C272 213.8 273.6 212.9 275 212.8Z"/>
<path d="M275 214.6C276 214.6 277.5 215.3 278.2 216C278.8 216.7 279.1 218 278.9 219C278.6 220 277.7 221.4 276.8 222C275.8 222.5 274.2 222.7 273.2 222.3C272.3 221.9 271.3 220.6 271.1 219.5C271 218.5 271.5 216.8 272.2 216C272.8 215.2 274 214.6 275 214.6Z"/>
<path class="m" d="M273.6 216.3C274.1 216.4 275.8 216.3 276.4 216.7C277 217.1 277.4 218.3 277.1 218.8C276.8 219.3 275.3 219.9 274.6 219.9C274 219.8 273.1 218.3 273.2 218.5C273.4 218.6 275 220.5 275.3 220.9"/>
<path d="M350 216.3C347.2 217.8 338.7 221.9 333 225.1C327.2 228.4 321.3 232.2 315.4 236C309.5 239.9 303.7 243.6 297.8 248.3C292 253 286.1 258.6 280.3 264.1C274.4 269.7 266.6 277.7 262.7 281.7C258.7 285.7 257.6 287 256.5 288"/>
<path d="M350 219C347.3 220.4 339.4 224.1 333.8 227.2C328.3 230.4 322.5 234 316.8 237.8C311.1 241.6 305.4 245.4 299.6 250.1C293.8 254.8 287.8 260.4 282 265.9C276.2 271.4 268.5 279.4 264.8 283.1C261.1 286.8 260.9 287.2 260.1 288"/>
<path d="M343.5 211.1C341.2 212.5 334.1 216.8 329.4 219.9C324.8 222.9 320.1 226 315.4 229.5C310.7 233 306 237 301.3 240.9C296.7 244.9 289.6 251.2 287.3 253.2"/>
<path d="M294.3 233.9C295.5 232.7 299 228.6 301.3 226.9C303.7 225.1 306 224.2 308.4 223.4C310.7 222.6 313.6 222.3 315.4 222C317.2 221.7 318.3 221.7 318.9 221.6"/>
<path class="m" d="M295.2 233C296.4 232.2 299.9 229.2 302.2 227.8C304.6 226.3 306.9 225.1 309.2 224.3C311.6 223.4 315.1 222.8 316.3 222.5"/>
<path d="M283.8 229.5C285.5 230.3 290.5 232 294.3 233.9C298.1 235.8 304.6 239.8 306.6 240.9"/>
<path d="M308.4 216.3C310.7 217.8 317.7 222.8 322.4 225.1C327.1 227.5 332.4 228.9 336.5 230.4C340.6 231.9 345.3 233.3 347 233.9"/>
<path d="M292.6 214.6C294 213.7 298.1 210.8 301.3 209.3C304.6 207.9 308.4 206.7 311.9 205.8C315.4 204.9 320.7 204.3 322.4 204.1"/>
<path d="M322.4 197C323 198.5 324.5 202.9 325.9 205.8C327.4 208.7 329.4 212 331.2 214.6C333 217.2 335.6 220.4 336.5 221.6"/>
<path d="M315.4 204.1C316.9 205.2 321.3 209.6 324.2 211.1C327.1 212.5 329.7 212.8 333 212.8C336.2 212.8 341.7 211.4 343.5 211.1"/>
<path d="M301.3 190C300.8 191.2 299.3 195.3 297.8 197C296.4 198.8 294.6 199.9 292.6 200.5C290.5 201.2 287.6 201.5 285.5 200.9C283.5 200.3 281.1 197.7 280.3 197"/>
<path d="M283.8 190C284.1 190.9 284.4 194 285.5 195.3C286.7 196.6 289 197.6 290.8 197.9C292.6 198.2 295.2 197.2 296.1 197"/>
<path class="m" d="M331.2 250.6C329.7 251.3 325.3 252.8 322.4 255C319.5 257.2 316.6 260.6 313.6 263.8C310.7 267 308.1 271.4 304.9 274.3C301.6 277.2 298.1 279.1 294.3 281.3C290.5 283.5 284.1 286.5 282 287.5"/>
<path d="M331.2 250.6C330.6 252.2 329.2 256.6 327.7 260.3C326.2 263.9 324.2 268.8 322.4 272.6C320.7 276.4 318.3 280.5 317.2 283.1C316 285.7 315.7 287.2 315.4 288"/>
<path d="M340 228.6C339.4 230.4 337.6 235.7 336.5 239.2C335.3 242.7 333.8 246.2 333 249.7C332.1 253.2 331.5 258.5 331.2 260.3"/>
<path d="M350 242.7C349.5 243.9 347.8 246.8 347 249.7C346.2 252.7 345.7 256.8 345.3 260.3C344.8 263.8 344.5 269 344.4 270.8"/>
<path d="M318.9 288C320.1 287.2 323.6 284.2 325.9 283.1C328.3 282 331.2 281.5 333 281.3C334.7 281.2 335.9 282.1 336.5 282.2"/>
<path d="M350 225.1C349.2 226 346.3 228.6 345.3 230.4C344.2 232.2 343.4 233.9 343.5 235.7C343.6 237.4 345.7 240.1 346.1 240.9"/>
</g>
</g>
<clipPath id="cp958347567"><path clip-rule="evenodd" d="M-10 -10H830V570H-10ZM300 160L400 160L400 230L300 230Z"/></clipPath><g clip-path="url(#cp958347567)">
<clipPath id="cl88367917"><rect x="0.0" y="203.5" width="817.0" height="96.5"/></clipPath><g clip-path="url(#cl88367917)">
<path class="b" d="M244.5 209C243.5 210.8 240.4 215.8 238.4 219.6C236.3 223.4 233.7 227.8 232.2 231.9C230.7 236 229.7 242.1 229.2 244.2"/>
<path class="m" d="M250.7 200.2C249.6 201.7 246.6 205.8 244.5 209C242.5 212.2 240.4 215.8 238.4 219.6C236.3 223.4 233.7 227.8 232.2 231.9C230.7 236 230 239.8 229.2 244.2C228.5 248.5 227.9 253.5 227.8 258.2C227.7 262.9 228 267.9 228.7 272.3C229.4 276.7 230.8 281.2 232.2 284.6C233.7 287.9 235.9 290.6 237.5 292.5C239.1 294.4 241.2 295.4 241.9 296"/>
<path d="M254.2 202C253.2 203.5 250.1 207.6 248 210.8C246 214 243.9 217.5 241.9 221.3C239.8 225.1 237.3 229.5 235.7 233.6C234.2 237.7 233.5 241.5 232.8 245.9C232 250.3 231.4 255.3 231.3 260C231.3 264.7 231.6 269.8 232.2 274C232.9 278.3 234 282.5 235.2 285.4C236.4 288.4 238.6 290.9 239.3 291.9"/>
<path class="t" d="M250.7 216.1C249.8 217.8 247.2 222.5 245.4 226.6C243.6 230.7 241.4 236 240.1 240.6C238.8 245.3 238.1 250 237.5 254.7C236.9 259.4 236.6 264.4 236.6 268.8C236.6 273.1 236.9 277.4 237.5 281C238.1 284.7 239.7 289.1 240.1 290.7"/>
<path class="m" d="M263 202C262.5 203.5 261.5 207.6 260.3 210.8C259.2 214 257.7 217.2 255.9 221.3C254.2 225.4 251.7 230.4 249.8 235.4C247.9 240.4 246 245.9 244.5 251.2C243.1 256.5 241.7 262 241 267C240.3 272 240 276.7 240.1 281C240.3 285.4 241.6 291.3 241.9 293.3"/>
<path d="M265.6 202.9C265.2 204.3 264.1 208.4 263 211.7C261.8 214.9 260.3 218.1 258.6 222.2C256.8 226.3 254.3 231.3 252.4 236.3C250.5 241.2 248.6 246.8 247.2 252.1C245.8 257.3 244.7 262.9 244 267.9C243.3 272.8 242.9 277.7 242.9 281.9C242.9 286.2 243.8 291.4 244 293.3"/>
<path class="m" d="M269.1 214.3C268.4 215.8 266.5 219.3 264.7 223.1C263 226.9 260.6 232.2 258.6 237.1C256.5 242.1 254.3 247.7 252.4 252.9C250.5 258.2 248.6 263.8 247.2 268.8C245.7 273.7 244.4 278.6 243.6 282.8C242.9 287 242.9 292.3 242.8 294.2"/>
<path class="m" d="M269.1 214.3C269.6 213.4 270.4 210.4 271.8 209C273.1 207.6 275 206.3 277 205.9C279.1 205.4 281.9 205.6 284 206.4C286.2 207.2 288.8 209.3 290.2 210.8C291.6 212.2 292.1 214.4 292.5 215.2"/>
<path class="m" d="M292.5 215.2C291.7 216.5 289.6 220 287.6 223.1C285.6 226.2 283.2 229.5 280.5 233.6C277.9 237.7 274.7 243 271.8 247.7C268.8 252.4 265.7 257 263 261.7C260.2 266.4 257.4 271.4 255.1 275.8C252.7 280.2 250.6 284.9 248.9 288.1C247.2 291.3 245.7 293.9 245.1 295.1"/>
<path d="M289 216.1C288.1 217.4 286 220.9 284 224C282.1 227 279.6 230.4 277 234.5C274.4 238.6 271.4 243.9 268.6 248.5C265.8 253.2 262.8 257.9 260.2 262.6C257.5 267.3 254.9 272.3 252.8 276.7C250.6 281 248.1 286.9 247.2 289"/>
<path class="t" d="M271.8 219.6C270.7 221.9 267.9 228.6 265.6 233.6C263.3 238.6 260.1 244.2 257.7 249.4C255.3 254.7 253 260.1 251 265.2C249.1 270.4 247.2 275.6 245.9 280.2C244.7 284.7 244 290.4 243.6 292.5"/>
<path class="t" d="M274.4 221.3C273.3 223.7 270.3 230.4 267.9 235.4C265.5 240.4 262.3 246 259.8 251.2C257.3 256.4 254.9 261.6 252.8 266.6C250.7 271.7 248.6 276.9 247.2 281.4C245.7 285.8 244.7 291.4 244.2 293.3"/>
<path class="t" d="M277 222.7C275.9 225.1 272.8 231.8 270.3 236.8C267.9 241.8 264.7 247.4 262.1 252.6C259.5 257.8 257 263.1 254.7 268C252.5 273 250.2 278.2 248.6 282.5C246.9 286.7 245.3 291.8 244.7 293.7"/>
<path class="t" d="M279.7 223.8C278.5 226.1 275.4 232.9 272.8 237.8C270.3 242.8 267.1 248.4 264.4 253.6C261.7 258.9 259 264.2 256.6 269.1C254.2 274 251.9 279 250 283.2C248.1 287.3 246 292.2 245.2 294"/>
<path class="t" d="M282.3 224.5C281.1 226.8 277.9 233.6 275.3 238.5C272.6 243.5 269.3 249.1 266.5 254.3C263.7 259.6 261.1 264.9 258.6 269.8C256.1 274.7 253.5 279.6 251.4 283.7C249.2 287.8 246.7 292.6 245.8 294.4"/>
<path class="t" d="M284.9 224.8C283.7 227.2 280.4 233.9 277.7 238.9C275 243.9 271.5 249.5 268.6 254.7C265.7 259.9 263.1 265.2 260.5 270.2C257.9 275.1 255.1 280.1 252.8 284.2C250.4 288.3 247.5 293 246.5 294.7"/>
<path class="t" d="M257.7 248.5L265.6 252.1"/>
<path class="t" d="M255.1 254.7L263.3 258.2"/>
<ellipse class="m" cx="275.3" cy="218.7" rx="6.3" ry="6.3"/>
<ellipse cx="275.3" cy="218.7" rx="4.7" ry="4.7"/>
<path class="m" d="M273.2 216.4C273.7 216.3 275.4 215.8 276.1 216.1C276.8 216.3 277.5 217.6 277.4 218.2C277.3 218.7 276.3 219.4 275.6 219.6C275 219.7 273.6 218.5 273.5 218.9C273.4 219.2 275 221.2 275.3 221.7"/>
<path class="m" d="M319.2 220.4C317.4 221 312.2 222.2 308.6 224C305.1 225.7 301.6 227.9 298.1 231C294.6 234.1 291.1 238.2 287.6 242.4C284 246.6 280.5 251.5 277 256.5C273.5 261.4 269.7 267.6 266.5 272.3C263.3 276.9 260 281.3 257.7 284.6C255.4 287.8 253.3 290.4 252.4 291.6"/>
<path d="M320.9 223.1C319.2 223.7 313.8 224.9 310.4 226.6C306.9 228.3 303.6 230.3 300.2 233.3C296.8 236.3 293.5 240.3 290 244.5C286.6 248.7 283 253.6 279.5 258.6C276 263.5 272.2 269.4 268.9 274C265.7 278.6 262.1 283.2 259.8 286.3C257.5 289.4 255.9 291.4 255.1 292.5"/>
<path d="M345 217.8C342.2 219.3 333.1 223.7 328 226.6C322.8 229.5 318.6 231.9 313.9 235.4C309.2 238.9 304.5 243 299.9 247.7C295.2 252.4 290.2 258.2 285.8 263.5C281.4 268.8 277.3 274.6 273.5 279.3C269.7 284 264.7 289.5 263 291.6"/>
<path d="M283.2 229.2C284.8 230 289.5 231.9 292.8 233.6C296.2 235.4 301.6 238.7 303.4 239.8"/>
<path d="M299.9 238L308.6 241.5"/>
<path class="m" d="M296.3 230.1C297.5 229.2 301 226.1 303.4 224.8C305.7 223.6 308.1 223.3 310.4 222.7C312.7 222.2 316.3 221.8 317.4 221.7"/>
<path class="m" d="M330.6 250.3C329.3 250.9 325.2 251.9 322.7 253.8C320.2 255.7 318 258.6 315.7 261.7C313.3 264.8 311.3 269.2 308.6 272.3C306 275.3 303.1 277.8 299.9 280.2C296.6 282.5 292.8 284.3 289.3 286.3C285.8 288.4 281.7 290.6 278.8 292.5C275.8 294.4 272.9 296.9 271.8 297.7"/>
<path d="M345 223.1C344.2 224.3 341.9 227.2 340.3 230.1C338.6 233 336.6 237.3 335 240.6C333.4 244 332.1 245.9 330.6 250.3C329.1 254.7 327.8 261.6 326.2 267C324.6 272.4 322.4 279 320.9 282.8C319.5 286.6 318 288.7 317.4 289.8"/>
<path d="M345 228.3C344.5 229.2 343.3 231.1 342 233.6C340.7 236.1 338.6 240.1 337.1 243.3C335.6 246.5 334.3 248.7 332.9 252.9C331.4 257.2 330 263.5 328.3 268.8C326.7 274 324.4 280.9 323 284.6C321.7 288.2 320.6 289.7 320.1 290.7"/>
<path d="M317.4 202C319.2 202.9 323.4 206.1 328 207.3C332.6 208.4 342.2 208.7 345 209"/>
<path d="M303.4 219.6C305.1 218.4 310.4 212.8 313.9 212.5C317.4 212.2 320.9 216.1 324.4 217.8C328 219.6 333.2 222.2 335 223.1"/>
<path d="M328 215.2C329.1 216.2 332.1 220.6 335 221.3C337.8 222.1 343.3 219.9 345 219.6"/>
<path d="M317.4 289.8C319.2 289 323.4 286.3 328 284.6C332.6 282.8 342.2 280.2 345 279.3"/>
<path d="M317.4 289.8C318.6 291 322.7 295.2 324.4 296.9C326.2 298.6 327.4 299.5 328 300"/>
</g>
</g>
<clipPath id="cl62596186"><rect x="0.0" y="299.5" width="817.0" height="258.5"/></clipPath><g clip-path="url(#cl62596186)">
<path class="m" d="M229 230C228.8 232.9 227.9 241.7 227.8 247.6C227.6 253.4 227.6 259.6 228.1 265.1C228.6 270.7 229.6 276.8 230.7 280.9C231.9 285 233.4 287.2 235.1 289.7C236.9 292.2 240.3 294.8 241.3 295.9"/>
<path d="M230.7 230C230.5 232.9 229.7 241.7 229.5 247.6C229.4 253.4 229.4 259.6 229.9 265.1C230.3 270.6 231.2 276.5 232.3 280.6C233.4 284.6 235.8 287.9 236.5 289.4"/>
<path class="m" d="M241.3 295.9C243.2 296.5 247.9 298.7 252.7 299.4C257.5 300.1 265 300.4 270.3 300.3C275.5 300.1 279.6 299.4 284.3 298.5C289 297.6 293.7 296.5 298.4 295C303.1 293.5 309.2 291.2 312.4 289.7C315.6 288.3 316.8 286.8 317.7 286.2"/>
<path d="M242.2 298.5C243.9 299 248 300.9 252.7 301.7C257.4 302.4 265.6 302.8 270.3 302.9C274.9 303 279 302.5 280.8 302.4"/>
<path class="m" d="M330 250.2C328.8 250.8 325.6 251.7 323 253.7C320.3 255.8 317.1 259.1 314.2 262.5C311.3 265.9 308.6 270.5 305.4 273.9C302.2 277.3 298.7 280.1 294.9 282.7C291 285.3 286.1 287.5 282.6 289.7C279 291.9 275.8 294.3 273.8 295.9C271.7 297.5 270.8 298.8 270.3 299.4"/>
<path d="M330 250.2C329.4 252.7 327.9 259.7 326.5 265.1C325 270.5 322.7 279 321.2 282.7C319.7 286.4 318.3 286.4 317.7 287.1"/>
<path d="M333.5 230C333.1 231.8 331.5 237.2 330.9 240.5C330.3 243.9 330.1 248.6 330 250.2"/>
<path d="M340 230C339.5 231.8 338.1 236.7 337 240.5C335.9 244.3 335 248.2 333.5 252.8C332 257.5 330 263.7 328.2 268.6C326.5 273.6 323.8 280.4 323 282.7"/>
<path class="m" d="M240.4 230C239.8 232.9 237.6 241.7 236.9 247.6C236.2 253.4 235.9 259.3 236 265.1C236.2 271 237 278 237.8 282.7C238.6 287.4 240.3 291.5 240.8 293.2"/>
<path class="m" d="M245.7 230C244.9 232.9 242.3 241.7 241.3 247.6C240.3 253.4 239.7 259.3 239.5 265.1C239.3 271 239.7 278 240.1 282.7C240.4 287.4 241.2 291.5 241.5 293.2"/>
<path d="M252.7 230C251.5 233.8 247.4 245.5 245.7 252.8C243.9 260.2 242.8 267.5 242.2 273.9C241.5 280.4 241.9 288.6 241.8 291.5"/>
<path d="M259.7 230C258.3 233.8 253.4 245.2 250.9 252.8C248.5 260.4 246.2 269.1 244.8 275.7C243.4 282.3 242.9 289.6 242.5 292.4"/>
<path class="t" d="M266.8 230C265 233.8 259.4 245.2 256.2 252.8C253 260.4 249.6 269.1 247.4 275.7C245.3 282.3 243.9 289.6 243.2 292.4"/>
<path class="t" d="M270.3 230C268.4 233.8 262.4 245.2 258.8 252.8C255.3 260.4 251.7 269.1 249.2 275.7C246.7 282.3 244.8 289.6 243.9 292.4"/>
<path class="t" d="M273.8 230C271.7 233.8 265.3 245.2 261.5 252.8C257.7 260.4 253.8 269.1 250.9 275.7C248.1 282.3 245.7 289.6 244.6 292.4"/>
<path class="t" d="M277.3 230C275.1 233.8 268.2 245.2 264.1 252.8C260 260.4 255.8 269.1 252.7 275.7C249.6 282.3 246.5 289.6 245.3 292.4"/>
<path class="m" d="M284.3 230C282 233.5 274.9 243.8 270.3 251.1C265.6 258.4 260 267.2 256.2 273.9C252.4 280.6 248.9 288.6 247.4 291.5"/>
<path class="m" d="M298.4 230C295.1 233.8 285.2 244.9 279 252.8C272.9 260.7 266.2 270.7 261.5 277.4C256.8 284.2 252.7 290.6 250.9 293.2"/>
<path d="M301 230C297.8 233.9 287.8 245.2 281.7 253.2C275.5 261.2 268.9 271 264.1 277.8C259.3 284.6 254.6 291.4 252.7 294.1"/>
<path d="M308.9 230C305.4 234.1 294.3 246.7 287.8 254.6C281.4 262.5 275.8 270.7 270.3 277.4C264.7 284.2 257.1 292.1 254.5 295"/>
<path d="M323 230C320 232.6 311.3 240 305.4 245.8C299.5 251.7 293.1 259 287.8 265.1C282.6 271.3 278.2 277.3 273.8 282.7C269.4 288.1 263.5 295.1 261.5 297.6"/>
<path d="M287.8 238.8C289.6 239.4 295.1 242 298.4 242.3C301.6 242.6 305.7 240.8 307.2 240.5"/>
<path d="M317.7 286.2C319.2 285.6 322.8 283.9 326.5 282.7C330.2 281.5 337.7 279.8 340 279.2"/>
<path d="M319.4 288.8C320.6 290.7 324.1 296.9 326.5 300.3C328.8 303.6 331.2 306.7 333.5 309C335.8 311.4 338.9 313.4 340 314.3"/>
<path d="M321.2 288C322.5 289.9 326.6 296 329.1 299.4C331.6 302.8 334.3 306 336.1 308.2C338 310.4 339.4 311.8 340 312.6"/>
</g>
<path d="M242 298.1C243.2 298.7 245.8 300.6 249 301.6C252.3 302.6 257 303.7 261.3 304.3C265.7 304.8 270.4 304.3 275.4 305.1C280.4 306 288.6 308.8 291.2 309.5"/>
<path d="M243.8 300.7C245.2 301.3 249 303.3 252.6 304.3C256.1 305.2 260.5 306 264.9 306.5C269.2 307.1 274.5 307 278.9 307.8C283.3 308.6 289.2 310.7 291.2 311.3"/>
<path class="m" d="M235.9 293.7C234.6 294.4 231.3 295.6 228 298.1C224.6 300.6 219.5 304.8 215.7 308.6C211.9 312.5 208.4 316.8 205.1 320.9C201.9 325 198.8 329.4 196.3 333.2C193.9 337 191.8 341.1 190.2 343.8C188.6 346.4 187.1 347.4 186.7 349C186.2 350.7 186.2 352 187.6 353.4C188.9 354.9 191.7 356.7 194.6 357.8C197.5 358.9 202.2 359.6 205.1 359.9C208.1 360.2 208.6 360.5 212.2 359.6C215.7 358.6 221.5 355.9 226.2 354.3C230.9 352.7 235.6 351.2 240.3 349.9C244.9 348.6 251.4 347.1 254.3 346.4C257.2 345.7 257.2 345.7 257.8 345.5"/>
<path d="M233.2 296.3C231.5 297.8 226.5 301.3 222.7 305.1C218.9 308.9 214.2 314.5 210.4 319.2C206.6 323.9 202.8 328.8 199.9 333.2C196.9 337.6 194.6 342.5 192.8 345.5C191.1 348.5 189.9 350.2 189.3 351.2"/>
<path d="M235 298.1C233.2 299.6 228.3 303.4 224.5 307.2C220.6 311 216 316.3 212.2 320.9C208.4 325.6 204.5 330.6 201.6 335C198.7 339.4 196.3 344.4 194.6 347.3C192.9 350.2 192 351.7 191.4 352.6"/>
<path d="M243.8 302.5C241.7 304.4 235.6 309.7 231.5 313.9C227.4 318.2 223 323.3 219.2 328C215.4 332.7 211.3 337.9 208.6 342C206 346.2 204.3 351.1 203.4 352.9"/>
<path d="M259.6 306.9C257.2 308.6 250.2 313.6 245.5 317.4C240.8 321.2 235.9 325.6 231.5 329.7C227.1 333.8 222.4 338.5 219.2 342C216 345.5 214.2 348.2 212.2 350.8C210.1 353.4 207.8 356.7 206.9 357.8"/>
<path d="M261.3 308.6C259 310.4 252 315.4 247.3 319.2C242.6 323 237.6 327.4 233.2 331.5C228.8 335.6 224.2 340.3 220.9 343.8C217.7 347.3 215.8 350.1 213.9 352.6C212 355 210.3 357.7 209.5 358.7"/>
<path d="M291.2 311.3C288.6 312.3 281 314.9 275.4 317.4C269.8 319.9 263.7 323 257.8 326.2C252 329.4 246.1 333.2 240.3 336.8C234.4 340.3 225.6 345.5 222.7 347.3"/>
<path d="M289.4 313.6C286.8 314.6 279.1 317.5 273.6 320.1C268.2 322.6 262.7 325.6 257 328.8C251.2 332.1 244.8 336.1 239.4 339.4C234 342.7 226.9 347.1 224.5 348.7"/>
<path d="M189.3 347.3C190.5 348 193.7 350.4 196.3 351.7C199 353 202.5 354.5 205.1 355.2C207.8 355.9 211 355.9 212.2 356.1"/>
<path class="b" d="M291.2 312.2C289.2 313.6 282.7 317.7 278.9 320.9C275.1 324.2 271.6 328 268.4 331.5C265.1 335 261.5 339.6 259.6 342C257.7 344.4 257.4 345.2 257 345.9"/>
<path d="M293.8 313.6C291.9 314.9 286.1 318.8 282.4 321.8C278.8 324.9 275 328.5 271.9 331.8C268.8 335.2 265.7 339.6 264 342C262.2 344.5 261.8 345.7 261.3 346.4"/>
<path d="M296.5 315.7C294.7 316.8 289.2 320.1 285.9 322.7C282.7 325.3 279.8 328.6 277.2 331.5C274.5 334.4 271.9 337.8 270.1 340.3C268.4 342.8 267.2 345.4 266.6 346.4"/>
<path class="m" d="M293 308.6C294.1 309.2 297.6 311.3 300 312.2C302.3 313 305.3 313.5 307 313.9C308.7 314.4 309.5 314.6 310 314.8"/>
<path d="M291.2 311.3C292.1 311.9 294.4 313.9 296.5 314.8C298.5 315.7 301.5 316.2 303.5 316.5C305.5 316.9 307.9 317 308.8 317.1"/>
<path class="m" d="M261.3 345.5C263.7 345.8 271.6 346.8 275.4 347.3C279.2 347.8 281.3 348.2 284.2 348.5C287.1 348.9 290.9 349.6 293 349.4C295 349.2 295.3 348.8 296.5 347.3C297.6 345.8 298.8 343.5 300 340.3C301.2 337 302.5 331.8 303.5 328C304.5 324.2 305.7 319.2 306.1 317.4"/>
<path d="M268.4 343.8C270.1 344.1 275.1 345.3 278.9 345.9C282.7 346.5 289.2 347.1 291.2 347.3"/>
<path d="M264.9 340.3C265.4 340.8 266.6 342.6 268.4 343.8C270.1 344.9 274.2 346.7 275.4 347.3"/>
<path d="M275.4 347.3C275.7 348.5 277 352 277.2 354.3C277.3 356.7 276.6 359.1 276.3 361.3C276 363.6 275.5 366.9 275.4 368"/>
<path d="M279.8 348.2C279.9 349.5 280.6 352.8 280.7 356.1C280.8 359.4 280.4 366 280.3 368"/>
<path d="M307 317.4C306.7 319.2 306.1 324.2 305.3 328C304.4 331.8 302.8 337 301.7 340.3C300.7 343.5 299.5 346.1 299.1 347.3"/>
<path d="M310 320.9C309.6 322.7 308.7 327.7 307.9 331.5C307.1 335.3 306.3 340.3 305.3 343.8C304.2 347.3 302.3 351.1 301.7 352.6"/>
<path d="M305.3 322.7L310 326.2"/>
<path d="M304.4 328L310 332.4"/>
<path d="M303.1 333.2L310 338.5"/>
<path d="M301.7 338.5L310 344.7"/>
<path d="M300.3 343.8L308.8 349.9"/>
<path d="M299.1 349L307 354.3"/>
<path class="t" d="M187.6 368C189 366.9 193.4 362.7 196.3 361.3C199.3 360 203.7 360.2 205.1 359.9"/>
<path class="t" d="M257.8 345.5C259.6 346.1 265.1 347.9 268.4 349C271.6 350.2 273.3 351.7 277.2 352.6C281 353.4 287.4 354.3 291.2 354.3C295 354.3 298.5 352.9 300 352.6"/>
<path d="M229.7 368C231.5 367.1 236.5 363.6 240.3 362.2C244.1 360.8 248.5 360 252.6 359.6C256.7 359.1 261 359.3 264.9 359.6C268.7 359.9 273.6 361 275.4 361.3"/>
<path d="M236.8 368C238.2 367.3 242 364.9 245.5 364C249 363 254 362.4 257.8 362.2C261.6 362.1 266.6 363 268.4 363.1"/>
<path class="w" d="M275.1 350L272.4 367.6L267.2 385.1L262.8 400.9L274.2 404.5L277.7 390.4L283 371.1L286.5 350Z"/>
<path d="M275.1 350C274.6 352.9 273.7 361.7 272.4 367.6C271.1 373.4 268.8 379.6 267.2 385.1C265.5 390.7 263.5 398.3 262.8 400.9"/>
<path d="M286.5 350C285.9 353.5 284.4 364.3 283 371.1C281.5 377.8 279.2 384.8 277.7 390.4C276.2 396 274.8 402.1 274.2 404.5"/>
<path class="m" d="M262.8 400.9C263.6 401.4 266.1 402.8 268 403.4C269.9 404 273.2 404.3 274.2 404.5"/>
<path d="M278 350C277.5 353.2 276.3 363 275.1 369.3C273.8 375.6 271.8 382.3 270.3 387.8C268.8 393.2 266.9 399.6 266.3 402"/>
<path d="M275.9 358.8L290 364.1"/>
<path d="M274.2 367.6L286.8 372.5"/>
<path d="M290 350C289.8 351.8 289.6 356.8 289.1 360.5C288.6 364.3 287.9 368.4 286.8 372.5C285.8 376.6 284.2 381.3 283 385.1C281.7 389 280 393.9 279.4 395.7"/>
<path d="M295.3 357C295 358.8 294.4 363.5 293.5 367.6C292.6 371.7 291.3 377.2 290 381.6C288.7 386 286.3 391.9 285.6 393.9"/>
<path class="w m" d="M262.6 400.7L273.9 403.8L272.4 411.1L261.1 407.8Z"/>
<path class="w m" d="M259.1 405.7L272.1 411.3L270.2 418.2L257.6 413.2Z"/>
<path d="M264.5 402.6C265.2 402.8 267 403.4 268.3 403.8C269.5 404.2 271.4 404.7 272.1 404.8"/>
<path class="w m" d="M242 412C242.9 410.6 245.8 409.7 247.6 409.5C249.4 409.3 251.4 409.8 252.6 410.7C253.9 411.7 255.1 413.5 255.1 415.1C255.1 416.7 254.1 419.1 252.6 420.1C251.2 421.2 248.1 421.8 246.3 421.4C244.6 421 242.7 419.2 242 417.6C241.2 416.1 241 413.3 242 412Z"/>
<path class="w m" d="M251.4 421.4C252.5 420.2 255.9 419.3 257.6 419.5C259.4 419.7 261.2 421.2 262 422.6C262.9 424.1 263.2 426.6 262.6 428.3C262.1 429.9 260.5 432.1 258.9 432.7C257.3 433.2 254.6 432.5 253.2 431.4C251.9 430.4 251.1 428.1 250.7 426.4C250.4 424.7 250.2 422.5 251.4 421.4Z"/>
<ellipse class="m" cx="258.9" cy="425.8" rx="2.8" ry="3.3"/>
<path class="b" d="M240.1 410.7C240.7 410.3 242.4 408.7 243.8 408.2C245.3 407.7 248 407.7 248.9 407.6"/>
<path class="b" d="M237.6 417.6C237.9 418.2 238.6 420.3 239.5 421.4C240.3 422.4 242.1 423.5 242.6 423.9"/>
<path class="b" d="M246.3 403.8C247.2 403.7 249.9 403 251.4 403.2C252.8 403.4 254.5 404.8 255.1 405.1"/>
<path class="b" d="M251.4 433.9C251.6 434.5 252 436.8 252.6 437.7C253.2 438.5 254.7 438.7 255.1 438.9"/>
<path class="m" d="M235.1 427.6C235.7 428.1 237.4 429.5 238.8 430.2C240.3 430.8 242.4 430.6 243.8 431.4C245.3 432.2 247 434.5 247.6 435.2"/>
<path class="m" d="M256.4 410.1C257 410.3 259.1 410.5 260.1 411.3C261.2 412.2 262.2 414.5 262.6 415.1"/>
<path class="m" d="M243.8 405.1C244.3 404.7 245.3 403.2 246.3 402.6C247.4 401.9 249.5 401.5 250.1 401.3"/>
<path class="b" d="M248.9 417.6C249.3 417.5 250.5 416.8 251.4 416.6C252.2 416.4 253.5 416.4 253.9 416.4"/>
<path class="b" d="M252.6 428.9C252.9 429.1 253.9 429.7 254.5 429.9C255.1 430.1 256.1 430.1 256.4 430.2"/>
<path class="b" d="M223.8 430.2C224.3 431 225.7 433.8 226.9 435.2C228.2 436.5 230.6 437.8 231.3 438.3"/>
<path class="b" d="M226.3 441.4C227 442 229.1 443.8 230.7 444.6C232.2 445.3 234.9 445.6 235.7 445.8"/>
<path class="b" d="M233.8 421.4C233.6 422.2 232.6 424.9 232.6 426.4C232.6 427.9 233.6 429.5 233.8 430.2"/>
<path class="b" d="M245.7 395C246.7 394.6 249.5 393.1 251.4 392.5C253.2 392 256.1 392 257 391.9"/>
<path class="b" d="M240.1 398.8C240.9 398.3 243.4 396.4 245.1 395.7C246.8 394.9 249.3 394.6 250.1 394.4"/>
<path class="m" d="M228.2 416.4C228.1 417.4 227.4 420.8 227.5 422.6C227.6 424.5 228.6 426.8 228.8 427.6"/>
<path class="m" d="M237.6 440.2C238.6 440.6 241.8 442.5 243.8 442.7C245.9 442.9 249.1 441.7 250.1 441.4"/>
<path class="m" d="M252.6 440.2C253.5 439.8 256.2 438.7 257.6 437.7C259.1 436.6 260.8 434.5 261.4 433.9"/>
<path d="M281.2 385.1C280.9 386.9 280 392.2 279.4 395.7C278.9 399.2 278.1 402.7 277.7 406.2C277.3 409.7 277 415 276.8 416.8"/>
<path d="M283 386.9C282.7 388.6 282 393.9 281.6 397.4C281.1 400.9 280.5 404.5 280.2 408C279.8 411.5 279.6 416.8 279.4 418.5"/>
<path d="M277.7 406.2C278.6 406.5 281.5 408 283 408C284.4 408 285.9 406.5 286.5 406.2"/>
<path d="M275.9 416.8C276.8 417.2 280 418.2 281.2 419.4C282.4 420.6 283 422.2 283 423.8C283 425.4 281.5 428.2 281.2 429"/>
<path class="t" d="M283 390.4C283.4 390.8 285.6 392.2 285.6 393C285.6 393.9 283 394.8 283 395.7C283 396.5 285.6 397.4 285.6 398.3C285.6 399.2 283 400.1 283 400.9C283 401.8 285.2 403.1 285.6 403.6"/>
<clipPath id="cp958347567"><path clip-rule="evenodd" d="M-10 -10H830V570H-10ZM300 160L400 160L400 230L300 230Z"/></clipPath><g clip-path="url(#cp958347567)">
<path class="t" d="M382.7 195.3C381.4 196.3 377.1 199.1 374.8 201.4C372.5 203.8 370.5 206.5 369 209.3C367.5 212.1 366.6 215.2 366 218.1C365.4 221 365.2 224 365.5 226.9C365.8 229.8 366.7 233 367.8 235.7C368.8 238.3 371.1 241.5 371.8 242.7"/>
<path d="M382.7 193.2C383.7 194.2 386.7 197.1 388.8 199.1C391 201.2 394.3 204.4 395.3 205.5"/>
<path d="M384.8 191.8C385.9 192.8 389 195.7 391.1 197.7C393.2 199.8 396.4 203 397.5 204.1"/>
<ellipse cx="396.4" cy="206.7" rx="1.8" ry="1.8"/>
<path class="m" d="M330 198.8C331.2 199.7 334.6 202.7 337 204.1C339.4 205.4 342 205.9 344.4 206.7C346.8 207.5 350 207.4 351.4 209C352.8 210.6 353 212.2 352.8 216.3C352.7 220.5 351.7 228.1 350.7 233.9C349.8 239.8 348.3 246.2 347.2 251.5C346.2 256.8 344.3 261.1 344.4 265.5C344.5 269.9 346.2 274.1 347.6 277.8C349 281.6 352 286.3 352.8 288"/>
<path d="M330 201.4C331.2 202.3 334.7 205.4 337 206.7C339.4 207.9 341.9 208.2 344.1 209C346.2 209.7 348.5 209.7 349.7 211.1C350.8 212.5 351.2 213.4 351.1 217.2C351 221 349.9 228.2 349 233.9C348 239.6 346.5 246.2 345.5 251.5C344.4 256.8 343.1 263.2 342.6 265.5"/>
<path d="M330 211.1C330.9 211.2 333.2 212 335.3 212C337.3 211.9 340.2 210.6 342.3 210.7C344.3 210.8 346.7 212.2 347.6 212.5"/>
<path d="M330 220.7C331.2 220.6 334.7 220.6 337 219.9C339.4 219.1 342.1 217.4 344.1 216.3C346 215.3 347.7 214.2 348.4 213.7"/>
<path d="M340.5 225.1C340 226.9 338.2 232.2 337 235.7C335.9 239.2 334.7 243 333.5 246.2C332.3 249.4 330.6 253.5 330 255"/>
<path d="M344.1 226.9C343.5 228.6 341.7 233.9 340.5 237.4C339.4 240.9 338.2 244.7 337 248C335.9 251.2 334.1 255.3 333.5 256.8"/>
<path d="M352.8 269C354.3 268.5 358.1 266.4 361.6 265.5C365.1 264.7 371.9 264.1 373.9 263.8"/>
<path d="M352.8 288C354.3 286.3 358.7 281.3 361.6 277.8C364.5 274.4 368.9 269 370.4 267.3"/>
<path d="M356.3 288C357.8 286.3 362.4 281 365.1 277.8C367.9 274.7 371.7 270.5 373 269"/>
<path d="M370.4 248C369.5 249.4 367.2 253.5 365.1 256.8C363.1 260 360.4 263.8 358.1 267.3C355.8 270.8 352.3 276.1 351.1 277.8"/>
<path d="M372.2 281.3C372.7 281.6 374.8 282 375.7 283.1C376.5 284.2 377.1 287.2 377.4 288"/>
<path d="M368.6 284.9C369.2 285 371.3 285.2 372.2 285.7C373 286.3 373.6 287.6 373.9 288"/>
<path d="M330 193.5C331.2 194.1 334.6 194.8 337 197C339.4 199.2 343.2 205.1 344.4 206.7"/>
</g>
<path class="t" d="M380 230.1C382.1 230.7 388.4 233.2 392.5 233.8C396.7 234.5 400.9 234.5 405.1 233.8C409.3 233.2 413.2 231.9 417.6 230.1C422 228.3 429.1 224.3 431.4 223.2"/>
<path class="m" d="M392.5 252.7C394.2 252 399.2 250.4 402.6 248.9C405.9 247.4 409.1 245.5 412.6 243.9C416.2 242.2 419.9 240.7 423.9 238.9C427.9 237 432.3 234.9 436.5 232.6C440.6 230.3 444.8 227.6 449 225.1C453.2 222.5 457.6 220 461.6 217.5C465.5 215 471 211.3 472.8 210"/>
<path d="M393.8 254.2C395.5 253.5 400.5 251.9 403.8 250.4C407.2 248.9 410.3 247.1 413.9 245.4C417.4 243.7 421.2 242.2 425.2 240.4C429.1 238.5 433.5 236.4 437.7 234.1C441.9 231.8 446.1 229.1 450.3 226.6C454.4 224.1 458.8 221.6 462.8 219C466.8 216.5 472.2 212.6 474.1 211.3"/>
<path d="M420.2 241.4C421.8 241.2 426.4 241.2 430.2 240.1C434 239.1 439.4 237.2 442.7 235.1C446.1 233 449 228.8 450.3 227.6"/>
<path d="M421.4 245.1C422.9 245 426.6 245.3 430.2 244.5C433.7 243.7 438.6 242.3 442.7 240.1C446.9 237.9 451.1 234.7 455.3 231.3C459.5 228 463.7 223.2 467.8 220C471.9 216.9 478 213.8 480 212.5"/>
<ellipse cx="412.6" cy="252" rx="5" ry="7.5"/>
<path d="M407.6 247.6C408.4 247.4 410.9 246.4 412.6 246.4C414.3 246.4 416.8 247.4 417.6 247.6"/>
<path class="m" d="M375 245.1C375.8 245.5 377.5 246.4 380 247.6C382.5 248.9 387.9 251.7 390 252.7C392.1 253.6 392.1 253.2 392.5 253.3"/>
<path d="M376.2 246.6C377.1 247.1 378.8 247.9 381.3 249.1C383.7 250.4 389.1 253.3 390.7 254.2"/>
<path d="M390.7 253.3L390 265.2"/>
<path class="m" d="M373.7 256.4C374.8 257.2 377.3 259.4 380 260.8C382.7 262.3 387.1 264.3 390 265.2C393 266.1 395.1 266.4 397.6 266.5C400.1 266.6 401.7 266.7 405.1 265.8C408.4 265 413.5 263.2 417.6 261.4C421.8 259.7 426.4 257.5 430.2 255.2C434 252.9 436.9 250.4 440.2 247.6C443.6 244.9 446.9 241.8 450.3 238.9C453.6 235.9 457 233 460.3 230.1C463.6 227.1 467.1 224 470.3 221.3C473.6 218.6 478.4 215 480 213.8"/>
<path d="M397.6 255.2L396.3 262.7"/>
<path d="M398.8 255.2L400.1 262.7"/>
<path d="M375 260.2C375.8 260.8 378.7 262.5 380 264C381.3 265.4 381.3 267.5 382.5 269C383.8 270.4 385.6 271.7 387.5 272.7C389.4 273.8 390.9 274.8 393.8 275.2C396.7 275.7 401.1 275.3 405.1 275.2C409.1 275.1 413.5 275 417.6 274.6C421.8 274.2 426 273.3 430.2 272.7C434.4 272.2 438.6 272.1 442.7 271.5C446.9 270.9 450.7 269.7 455.3 269C459.9 268.2 467.8 267.4 470.3 267.1"/>
<path d="M383.8 265.2L381.3 271.5"/>
<path d="M388.8 266.5L386.3 274"/>
<path d="M398.8 267.1L396.3 276.5"/>
<path d="M405.1 266.5L402.6 275.2"/>
<path class="m" d="M427.7 280C428.9 278.8 432.3 275.6 435.2 272.7C438.1 269.8 441.9 266 445.2 262.7C448.6 259.4 451.9 256 455.3 252.7C458.6 249.3 462 246 465.3 242.6C468.7 239.3 472.9 234.9 475.4 232.6C477.8 230.3 479.2 229.4 480 228.8"/>
<path d="M439 252.7C439.6 253.9 441.9 257.1 442.7 260.2C443.6 263.3 443.8 269.6 444 271.5"/>
<path d="M449.6 243.9C450.3 245.3 452.6 249.3 453.4 252.7C454.2 256 454.4 262.1 454.7 264"/>
<path d="M444 264.6C445.9 264.4 451.3 263.8 455.3 263.3C459.3 262.8 463.7 262.1 467.8 261.4C471.9 260.8 478 259.9 480 259.6"/>
<path d="M444 266.5C445.9 266.3 451.3 265.7 455.3 265.2C459.3 264.7 463.7 264 467.8 263.3C471.9 262.7 478 261.8 480 261.4"/>
<path d="M455.3 258.9C457.4 257.7 463.7 253.9 467.8 251.4C471.9 248.9 478 245.1 480 243.9"/>
<path d="M454 256.4C456.1 255.2 462.2 251.6 466.6 248.9C470.9 246.2 477.8 241.6 480 240.1"/>
<ellipse cx="435.2" cy="276.5" rx="1.9" ry="1.9"/>
<path class="m" d="M481.4 107.6C482.4 106 484.8 101 487.6 98C490.3 95 493.7 91.8 498.1 89.5C502.5 87.3 508.4 86.2 513.9 84.3C519.5 82.4 525.6 80.5 531.5 78.1C537.3 75.8 543.2 72.8 549 70.2C554.9 67.7 561.5 64.7 566.6 62.8C571.7 61 575.4 58.7 579.8 59C584.2 59.3 589.3 62.8 593 64.6C596.6 66.4 599.7 68.1 601.7 69.9C603.8 71.6 604.8 73.1 605.3 75.1C605.7 77.2 604.5 81 604.4 82.2"/>
<path d="M483.2 107.6C484.2 106.2 486.6 101.6 489.3 98.8C492 96.1 495.4 93.3 499.5 91.3C503.6 89.2 511.5 87.3 513.9 86.5"/>
<path d="M484.9 108.2C486 106.9 488.4 103 491.1 100.6C493.7 98.2 499.1 94.7 500.7 93.6"/>
<path d="M533.2 78.1C533.3 79.1 532.4 82.4 533.6 83.9C534.8 85.5 537.1 86 540.3 87.4C543.4 88.9 548.5 90.8 552.6 92.7C556.7 94.6 561.6 96.9 564.9 98.8C568.1 100.8 571 103.7 572.2 104.6"/>
<path class="m" d="M543.8 82.2C546.1 81 553.4 77.5 557.8 75.1C562.2 72.8 566.5 70.4 570.1 68.1C573.8 65.8 578.2 62.3 579.8 61.1"/>
<path d="M546.4 83.6C548.8 82.4 556.1 78.9 560.5 76.5C564.9 74.2 569.1 71.9 572.8 69.5C576.4 67.2 580.8 63.7 582.4 62.5"/>
<path d="M557.8 90.1C560.2 88.2 567.5 82.3 571.9 79C576.3 75.7 580.7 72.4 584.2 70.2C587.7 68 591.5 66.4 593 65.6"/>
<path class="m" d="M573.6 94.5C575.7 92.7 582.1 87.1 585.9 83.9C589.7 80.7 593.8 77.3 596.5 75.1C599.2 72.9 601.2 71.5 602.1 70.7"/>
<path d="M577.2 96.6C579.2 94.8 585.6 89.2 589.4 86C593.3 82.8 597.5 79.3 600 77.2C602.5 75.2 603.8 74.3 604.6 73.7"/>
<path d="M579.8 98C581.7 96.4 587.7 91.2 591.2 88.3C594.7 85.4 598.6 82.2 600.9 80.4C603.1 78.6 604.2 78.2 604.9 77.8"/>
<path d="M499 89.5C501.5 89 509.1 86.8 513.9 86C518.7 85.2 523.6 84.4 528 84.8C532.4 85.2 535.9 86.7 540.3 88.3C544.7 89.9 549.9 92.4 554.3 94.5C558.7 96.5 563.3 98.5 566.6 100.6C569.9 102.7 572.8 106 574 107.1"/>
<path d="M499.9 92.7C502.2 92.3 509.2 90.6 513.9 90.1C518.6 89.5 523.6 88.9 528 89.2C532.4 89.5 536.2 90.6 540.3 92C544.4 93.3 547.9 95.2 552.6 97.3C557.2 99.4 565.7 103.4 568.4 104.6"/>
<path class="t" d="M505.1 88.3L507.8 91.8"/>
<path class="t" d="M515.7 86L517.1 89.7"/>
<path class="t" d="M522.7 84.8L523.8 88.8"/>
<path class="t" d="M510.4 87.1L512.2 90.9"/>
<path class="t" d="M498.1 89.5C498.7 90.6 500.4 94.5 501.6 96.2C502.8 97.9 504.5 99.1 505.1 99.7"/>
<path d="M579.8 59C580.2 59.3 580.2 60 582.4 61.1C584.6 62.2 591.2 64.9 593 65.6"/>
<path d="M602.1 70.7C601.9 71.5 601.5 73.5 600.9 75.1C600.2 76.7 598.7 79.5 598.2 80.4"/>
<path class="t" d="M470 109.4C472.3 109.2 478.8 108.3 484.1 108.2C489.3 108 496.9 108.2 501.6 108.5C506.3 108.9 508.9 109.1 512.2 110.3C515.4 111.4 518.6 113.5 520.9 115.5C523.3 117.6 525 119.9 526.2 122.6C527.4 125.2 527.8 128.8 528 131.3C528.1 133.9 527.2 136.9 527.1 138"/>
<path class="t" d="M501.6 108.5C502.2 107 503.1 102.3 505.1 99.7C507.2 97.1 510.4 94.6 513.9 93C517.4 91.5 521.8 90.3 526.2 90.2C530.6 90.2 535.9 91.6 540.3 92.7C544.7 93.8 548.5 95 552.6 96.6C556.7 98.1 561.7 99.9 564.9 101.8C568 103.8 570.4 107.1 571.5 108.2"/>
<path class="t" d="M512.2 110.3C512.7 111.7 514.9 116.1 515.7 119C516.4 122 516.6 124.7 516.7 127.8C516.9 131 516.6 136.3 516.5 138"/>
<path class="t" d="M543.8 138C544.7 135.7 546.7 128.9 549 124.3C551.4 119.7 554.6 114 557.8 110.3C561 106.5 566.6 103.2 568.4 101.8"/>
<path class="t" d="M487.6 107.6C488.7 106.6 491.7 102.8 494.6 101.5C497.5 100.2 503.4 100 505.1 99.7"/>
<path class="t" d="M550.8 138C552 137.5 555.5 135.7 557.8 134.9C560.2 134 563.7 133.4 564.9 133.1"/>
<path class="t" d="M516.5 130C516.5 131.8 516.5 136.7 516 140.5C515.6 144.3 515.1 148.2 513.9 152.8C512.7 157.5 510.3 164 508.6 168.6C507 173.3 505 178.9 504.3 180.9"/>
<path class="t" d="M527.1 130C526.8 131.5 526.4 136.4 525.3 138.8C524.3 141.1 522.6 142.6 520.9 144.1C519.3 145.5 516.5 147 515.7 147.6"/>
<path class="t" d="M489.3 147.6C491.1 147.2 496.6 145.6 499.9 145.5C503.1 145.3 506 145.5 508.6 146.7C511.3 147.9 514.5 151.8 515.7 152.8"/>
<path class="t" d="M489.3 159.9C490.1 159.5 492.3 158.3 493.7 157.8C495.2 157.2 497.4 156.6 498.1 156.3"/>
<path class="t" d="M547.3 130C546.1 132.3 543.2 139.4 540.3 144.1C537.3 148.7 533.2 153.1 529.7 158.1C526.2 163.1 522.1 169.8 519.2 173.9C516.3 178 513.3 181.2 512.2 182.7"/>
<path class="m" d="M480 202.7C483.1 200.4 492.5 193.3 498.8 188.9C505.1 184.5 511.4 180.5 517.6 176.3C523.9 172.2 531.4 167.3 536.5 163.8C541.5 160.4 545.9 157 547.8 155.6"/>
<path d="M480 204.7C483.1 202.4 492.5 195.3 498.8 190.9C505.1 186.5 511.4 182.5 517.6 178.4C523.9 174.2 531.3 169.3 536.5 165.8C541.6 162.3 546.4 158.7 548.4 157.3"/>
<path d="M480 211.5C482.1 209.8 487.3 205.6 492.5 201.4C497.8 197.3 505.1 191.4 511.4 186.4C517.6 181.4 523.7 176.5 530.2 171.3C536.7 166.2 545.2 159.5 550.3 155.6C555.3 151.8 558.6 149.4 560.3 148.1"/>
<path class="m" d="M480 226.5C481.7 225.1 485.9 221.5 490 217.8C494.2 214 499.4 209 505.1 204C510.7 198.9 517.6 193.1 523.9 187.6C530.2 182.2 536.7 176.6 542.7 171.3C548.8 166.1 556.9 159.2 560.3 156.3C563.7 153.3 562.6 154.2 563.1 153.8"/>
<path d="M498.8 188.9C499.9 188.1 502.6 185.3 505.1 183.9C507.6 182.4 512.8 179.7 513.9 180.1C514.9 180.5 513 184.7 511.4 186.4C509.7 188.1 505.1 189.5 503.8 190.2"/>
<path class="t" d="M547.8 152.5C548.1 153 549 155.6 549.6 155.6C550.3 155.6 551.2 153 551.5 152.5"/>
<path class="t" d="M550.3 151.9C551.1 151.6 554 149.9 555.3 150C556.5 150.1 557.4 152.1 557.8 152.5"/>
<path d="M552.8 156.3C554 156.2 558.6 156.1 560.3 155.6C562 155.2 562.4 154.1 562.8 153.8"/>
<path d="M506.3 220C508.2 218.2 513.7 212.7 517.6 209C521.6 205.2 525.6 201.4 530.2 197.7C534.8 193.9 542.7 188.3 545.2 186.4"/>
<path d="M508.9 220C512.8 216.5 526.2 204.3 532.7 198.9C539.2 193.5 545.2 189.5 547.8 187.6"/>
<path d="M530.2 217.8C532.3 215.5 538.6 208.3 542.7 204C546.9 199.6 551.5 195.2 555.3 191.4C559 187.6 563.6 183 565.3 181.4"/>
<path d="M532.7 219C534.8 216.7 541.1 209.6 545.2 205.2C549.4 200.8 554.1 196.4 557.8 192.7C561.5 188.9 565.6 184.5 567.2 182.9"/>
<path d="M535.8 220C537.8 217.9 543.7 211.4 547.8 207.1C551.8 202.7 556.9 197.7 560.3 193.9C563.8 190.2 567.1 186.1 568.5 184.5"/>
<path d="M492.5 220C494.6 218.2 500.9 212.7 505.1 209C509.3 205.2 513.8 200.6 517.6 197.7C521.5 194.8 526.5 192.5 528.3 191.4"/>
<path d="M480 220C481.3 219 484.6 216.5 487.5 214C490.5 211.5 495.9 206.7 497.6 205.2"/>
<path d="M480.1 241.8C480.5 241.5 479.3 242.4 482.7 239.7C486.1 237 494.4 230.6 500.3 225.7C506.1 220.7 514.9 212.5 517.8 209.9"/>
<path d="M480.1 247.6C481.1 246.9 482.3 246.2 486.2 243.2C490.2 240.3 497.9 234.7 503.8 230.1C509.6 225.4 518.4 217.6 521.3 215.1"/>
<path d="M503.8 247.6C506.1 245.1 513.1 237.5 517.8 232.7C522.5 227.9 529.5 221 531.9 218.6"/>
<path d="M505.5 249.4C508.2 246.9 516.4 239.1 521.3 234.5C526.3 229.8 533.1 223.5 535.4 221.3"/>
<path d="M514.3 245C516.7 242.7 523.7 235.9 528.4 230.9C533.1 226 540.1 217.8 542.4 215.1"/>
<path d="M480.1 259.9C480.5 259.6 478.7 260.1 482.7 258.2C486.6 256.3 500.3 250.1 503.8 248.5"/>
<path class="m" d="M563.1 180.5Q569.7 180.5 575.1 175.9"/>
<path class="t" d="M575.1 175.9Q576 177.1 575.5 178"/>
<path class="t" d="M563.1 180.5Q562.2 179.5 562.8 178.6"/>
<path class="m" d="M563.7 183.2Q570.3 183.2 575.8 178.6"/>
<path class="t" d="M575.8 178.6Q576.7 179.8 576.1 180.6"/>
<path class="t" d="M563.7 183.2Q562.9 182.2 563.4 181.3"/>
<path class="m" d="M564.4 185.8Q571 185.9 576.4 181.2"/>
<path class="t" d="M576.4 181.2Q577.3 182.4 576.8 183.3"/>
<path class="t" d="M564.4 185.8Q563.5 184.8 564.1 184"/>
<path class="m" d="M565.1 188.5Q571.7 188.5 577.1 183.9"/>
<path class="t" d="M577.1 183.9Q578 185.1 577.5 186"/>
<path class="t" d="M565.1 188.5Q564.2 187.5 564.7 186.6"/>
<path class="m" d="M565.7 191.1Q572.3 191.2 577.8 186.6"/>
<path class="t" d="M577.8 186.6Q578.6 187.8 578.1 188.6"/>
<path class="t" d="M565.7 191.1Q564.8 190.1 565.4 189.3"/>
<path class="m" d="M566.4 193.8Q573 193.9 578.4 189.2"/>
<path class="t" d="M578.4 189.2Q579.3 190.4 578.8 191.3"/>
<path class="t" d="M566.4 193.8Q565.5 192.8 566.1 191.9"/>
<path class="m" d="M567 196.5Q573.6 196.5 579.1 191.9"/>
<path class="t" d="M579.1 191.9Q579.9 193.1 579.4 194"/>
<path class="t" d="M567 196.5Q566.2 195.5 566.7 194.6"/>
<path class="m" d="M567.7 199.1Q574.3 199.2 579.7 194.6"/>
<path class="t" d="M579.7 194.6Q580.6 195.8 580.1 196.6"/>
<path class="t" d="M567.7 199.1Q566.8 198.1 567.4 197.3"/>
<path class="m" d="M568.4 201.8Q574.9 201.8 580.4 197.2"/>
<path class="t" d="M580.4 197.2Q581.3 198.4 580.7 199.3"/>
<path class="t" d="M568.4 201.8Q567.5 200.8 568 199.9"/>
<path class="m" d="M569 204.5Q575.6 204.5 581 199.9"/>
<path class="t" d="M581 199.9Q581.9 201.1 581.4 202"/>
<path class="t" d="M569 204.5Q568.1 203.5 568.7 202.6"/>
<path class="m" d="M569.7 207.1Q576.3 207.2 581.7 202.6"/>
<path class="t" d="M581.7 202.6Q582.6 203.8 582.1 204.6"/>
<path class="t" d="M569.7 207.1Q568.8 206.1 569.4 205.3"/>
<path class="m" d="M570.3 209.8Q576.9 209.8 582.4 205.2"/>
<path class="t" d="M582.4 205.2Q583.2 206.4 582.7 207.3"/>
<path class="t" d="M570.3 209.8Q569.5 208.8 570 207.9"/>
<path class="m" d="M571 212.5Q577.6 212.5 583 207.9"/>
<path class="t" d="M583 207.9Q583.9 209.1 583.4 209.9"/>
<path class="t" d="M571 212.5Q570.1 211.5 570.7 210.6"/>
<path class="m" d="M571.6 215.1Q578.2 215.2 583.7 210.6"/>
<path class="t" d="M583.7 210.6Q584.6 211.8 584 212.6"/>
<path class="t" d="M571.6 215.1Q570.8 214.1 571.3 213.3"/>
<path class="m" d="M572.3 217.8Q578.9 217.8 584.3 213.2"/>
<path class="t" d="M584.3 213.2Q585.2 214.4 584.7 215.3"/>
<path class="t" d="M572.3 217.8Q571.4 216.8 572 215.9"/>
<path class="m" d="M573 220.5Q579.6 220.5 585 215.9"/>
<path class="t" d="M585 215.9Q585.9 217.1 585.4 217.9"/>
<path class="t" d="M573 220.5Q572.1 219.5 572.7 218.6"/>
<path class="m" d="M573.6 223.1Q580.2 223.2 585.7 218.5"/>
<path class="t" d="M585.7 218.5Q586.5 219.7 586 220.6"/>
<path class="t" d="M573.6 223.1Q572.7 222.1 573.3 221.3"/>
<path class="m" d="M574.3 225.8Q580.9 225.8 586.3 221.2"/>
<path class="sr" d="M556.8 239.1L534.1 241.6"/>
<path class="sr" d="M556.4 244.7L534.2 239.7"/>
<path class="sr" d="M557.3 237.8L534.5 237.9"/>
<path class="sr" d="M556.2 243.3L534.8 236"/>
<path class="sr" d="M558.1 236.5L535.3 234.2"/>
<path class="sr" d="M556.2 241.9L535.9 232.4"/>
<path class="sr" d="M559 235.4L536.5 230.7"/>
<path class="sr" d="M556.4 240.5L537.3 229"/>
<path class="sr" d="M560 234.3L538.2 227.3"/>
<path class="sr" d="M556.7 239.1L539.2 225.7"/>
<path class="sr" d="M561.1 233.3L540.3 224.2"/>
<path class="sr" d="M557.3 237.7L541.5 222.7"/>
<path class="sr" d="M562.4 232.5L542.8 221.3"/>
<path class="sr" d="M558 236.5L544.1 220"/>
<path class="sr" d="M563.8 231.9L545.6 218.8"/>
<path class="sr" d="M558.9 235.3L547.1 217.6"/>
<path class="sr" d="M565.2 231.4L548.6 216.6"/>
<path class="sr" d="M559.9 234.2L550.3 215.6"/>
<path class="sr" d="M566.7 231L552 214.7"/>
<path class="sr" d="M561 233.3L553.7 214"/>
<path class="sr" d="M568.3 230.9L555.5 213.4"/>
<path class="sr" d="M562.3 232.5L557.3 212.8"/>
<path class="sr" d="M569.8 230.9L559.2 212.4"/>
<path class="sr" d="M563.7 231.8L561 212.1"/>
<path class="sr" d="M571.3 231.1L562.9 211.9"/>
<path class="sr" d="M565.1 231.3L564.8 211.8"/>
<path class="sr" d="M572.8 231.4L566.7 211.8"/>
<path class="sr" d="M566.6 231L568.6 212"/>
<path class="sr" d="M574.2 232L570.5 212.2"/>
<path class="sr" d="M568.1 230.9L572.4 212.6"/>
<path class="m" d="M529 242.7C530.6 240.1 535 231.6 538.6 226.9C542.3 222.2 546.5 218 550.9 214.6C555.3 211.2 560.3 208.2 565 206.7C569.7 205.2 574.7 204.8 579 205.8C583.4 206.8 588.1 209.6 591.3 212.8C594.6 216.1 596.6 220.4 598.4 225.1C600.1 229.8 601.6 235.7 601.9 240.9C602.2 246.2 601.2 252 600.1 256.8C599.1 261.5 596.5 267.3 595.7 269.4"/>
<path d="M531.6 242.7C533.2 240.4 537.8 232.9 541.3 228.6C544.8 224.4 548.6 220.4 552.7 217.2C556.8 214.1 561.8 211 565.9 209.7C570 208.3 573.6 208.2 577.3 209C580.9 209.8 584.9 211.9 587.8 214.6C590.8 217.3 593.2 220.7 594.9 225.1C596.5 229.5 597.5 235.7 597.7 240.9C597.8 246.2 596.8 252.3 595.9 256.8C595 261.2 593 265.8 592.4 267.6"/>
<path d="M534.3 242.7C535.8 240.6 540.2 233.9 543.6 230.1C546.9 226.2 550.6 222.4 554.5 219.5C558.3 216.6 562.9 213.7 566.8 212.5C570.6 211.2 574.1 211.3 577.3 212C580.5 212.7 583.6 214.4 586.1 216.7C588.6 219 590.8 222 592.2 226C593.7 230.1 594.7 236 594.9 240.9C595.1 245.9 593.7 253.4 593.5 255.9"/>
<path d="M584.3 197.9C586.1 198.3 591.6 198.6 594.9 200.5C598.1 202.4 601.2 205.5 603.6 209.3C606.1 213.1 608.4 218.1 609.8 223.4C611.1 228.6 611.9 235.1 611.7 240.9C611.6 246.8 610.4 252.9 608.9 258.5C607.4 264.1 604.5 270.5 602.8 274.3C601 278.1 599.1 280.2 598.4 281.3"/>
<path class="t" d="M600.1 191.8C601.3 192.6 605.1 194.4 607.2 197C609.2 199.7 611.1 203.5 612.4 207.6C613.7 211.7 614.7 215.8 615.1 221.6C615.4 227.5 615.3 236.3 614.5 242.7C613.8 249.1 612.2 255 610.7 260.3C609.1 265.5 607 270.5 605.4 274.3C603.8 278.1 601.7 281.6 601 283.1"/>
<path class="m" d="M558 237.4C559.1 235.8 563.5 235.4 566.8 234.8C570 234.2 574.4 233.5 577.3 233.9C580.2 234.4 582.9 235.4 584.3 237.4C585.8 239.5 587 244.2 586.1 246.2C585.2 248.3 582.3 249.3 579 249.7C575.8 250.2 570 249.7 566.8 248.8C563.5 248 561.2 246.4 559.7 244.5C558.3 242.6 556.8 239 558 237.4Z"/>
<path d="M577.3 224.3C578.2 224 580.9 222.4 582.6 222.5C584.2 222.6 586.1 223.2 587 225.1C587.8 227 588 231.6 587.8 233.9C587.7 236.3 586.4 238.3 586.1 239.2"/>
<path d="M577.3 224.3C577.4 225.6 577.9 229.7 578.2 232.2C578.5 234.6 578.9 238 579 239.2"/>
<path d="M561.5 242.7C562.9 242.4 567.3 240.9 570.3 240.9C573.2 240.9 577.6 242.4 579 242.7"/>
<path d="M566.8 248.8C567.3 249.6 568.5 252.2 570.3 253.2C572 254.3 574.9 255.3 577.3 255C579.6 254.7 583.1 252.1 584.3 251.5"/>
<path class="m" d="M573.8 250.6C575.2 251 579.9 252.9 582.6 253.2C585.2 253.5 588 251.8 589.6 252.4C591.2 252.9 591.9 255.4 592.2 256.8C592.5 258.1 591.5 259.7 591.3 260.3"/>
<path d="M579 255C579.9 255.9 582.6 258.8 584.3 260.3C586.1 261.7 588.1 262.6 589.6 263.8C591 264.9 592.5 266.7 593.1 267.3"/>
<path d="M552.7 240.9C553.3 240.6 555 239.2 556.2 239.2C557.4 239.2 559.1 240.6 559.7 240.9"/>
<path class="m" d="M549.2 237.4C550.1 237.1 553 235.7 554.5 235.7C555.9 235.7 557.4 237.1 558 237.4"/>
<path d="M587.8 237.4C588.4 238 590.9 239.5 591.3 240.9C591.8 242.4 590.6 245.3 590.5 246.2"/>
<path d="M584.3 235.7C585.2 235.4 588.4 233.6 589.6 233.9C590.8 234.2 591 236.8 591.3 237.4"/>
<path d="M545.7 242.7C546.5 243 549.2 243.6 550.9 244.5C552.7 245.3 554.5 246.9 556.2 248C558 249 560.6 250.2 561.5 250.6"/>
<path d="M537.8 218.1C537 219.3 534.5 223.2 533.4 225.1C532.2 227 530.4 228.6 530.7 229.5C531 230.5 534.4 230.5 535.1 230.8"/>
<ellipse cx="366.7" cy="290.1" rx="10.9" ry="8.4" transform="rotate(-15 366.7 290.1)"/>
<ellipse cx="366.7" cy="290.9" rx="8.4" ry="6.3" transform="rotate(-15 366.7 290.9)"/>
<ellipse cx="366.2" cy="292.7" rx="6" ry="4.6" transform="rotate(-15 366.2 292.7)"/>
<path d="M360.5 290.9C361.4 291.2 363.9 292.8 365.8 292.7C367.7 292.6 370.9 290.5 372 290.1"/>
<path d="M365.8 287.4C365.9 288.3 365.9 291.1 366.2 292.7C366.5 294.3 367.3 296.4 367.6 297.1"/>
<path class="m" d="M355.3 287.4C355 288.3 353.5 290.6 353.5 292.7C353.5 294.7 354.1 297.8 355.3 299.7C356.4 301.6 358.2 303.2 360.5 304.1C362.9 305.1 366.4 305.8 369.3 305.3C372.3 304.9 375.5 303.3 378.1 301.5C380.7 299.7 382.8 297.4 385.1 294.5C387.5 291.5 391 285.7 392.2 283.9"/>
<path d="M357 302.4C358.2 303.2 361.4 306.5 364.1 307.6C366.7 308.7 369.9 309.3 372.8 308.9C375.8 308.4 379 306.8 381.6 305C384.3 303.2 386.4 300.9 388.6 298C390.9 295 394.2 289.2 395.3 287.4"/>
<path d="M360.5 306.8C360.2 307.9 358.5 311.1 358.8 313.8C359.1 316.4 360.8 320.4 362.3 322.6C363.8 324.8 366.7 326.2 367.6 327"/>
<path class="m" d="M350 298C350.6 299.4 352 304.1 353.5 306.8C355 309.4 357 312 358.8 313.8C360.5 315.5 363.2 316.7 364.1 317.3"/>
<path d="M350 282.2C350.9 281 353.5 277.8 355.3 275.1C357 272.5 358.5 269.6 360.5 266.3C362.6 263.1 365.8 259 367.6 255.8C369.3 252.6 370.5 248.5 371.1 247"/>
<path d="M353.5 283.9C354.4 282.6 357 278.6 358.8 276C360.5 273.4 362.1 271 364.1 268.1C366 265.2 369.2 260.1 370.2 258.4"/>
<path d="M378.1 280.4C377.2 281 374.6 283.2 372.8 283.9C371.1 284.6 369.6 284.8 367.6 284.8C365.5 284.8 361.7 284.1 360.5 283.9"/>
<path d="M370 303.9C371.3 303.5 375 302.8 377.5 301.4C380 299.9 382.8 297.6 385.1 295.1C387.4 292.6 389.7 288.9 391.3 286.3C393 283.8 394.5 280.9 395.1 279.8"/>
<path d="M370 306.6C371.5 306.2 375.9 305.5 378.8 303.9C381.7 302.3 385.1 299.5 387.6 297C390.1 294.5 392.3 291.3 393.8 288.8C395.4 286.3 396.5 283.1 397 281.9"/>
<path d="M380 300.1C381.5 301.4 386.3 304.7 388.8 307.6C391.3 310.6 393.4 314.1 395.1 317.7C396.8 321.2 398.2 327.1 398.9 329"/>
<path d="M370 313.9C371.3 313.8 374.8 313.9 377.5 313.3C380.2 312.7 383.8 311.3 386.3 310.2C388.8 309 391.5 307 392.6 306.4"/>
<path d="M388.8 327.7C390.9 324.8 396.6 315.1 401.4 310.2C406.2 305.2 415 300.2 417.7 298.2"/>
<path d="M380 325.2C382.5 322.9 389.2 316.1 395.1 311.4C400.9 306.7 411.8 299.4 415.2 297"/>
<path class="m" d="M402.9 308.3L407.6 306.4"/>
<path d="M402.6 310.2C403 311.8 404.3 317.1 405.1 320.2C406 323.3 407.2 327.5 407.6 329"/>
<path d="M416.4 298.9C416.6 300.7 417.2 306.6 417.4 310.2C417.6 313.7 417.6 318.5 417.7 320.2"/>
<path d="M400.1 330.2C403.5 328.6 414.1 323.7 420.2 320.2C426.3 316.6 433.8 310.8 436.5 308.9"/>
<path d="M407.6 334C410.8 332.3 420.2 327.5 426.5 324C432.7 320.4 442.1 314.5 445.3 312.7"/>
<path d="M408.9 335.5L447.8 315.4"/>
<path d="M411.4 338.5L448.4 318.4"/>
<path d="M439 313.9C439.6 316 441.7 322.9 442.8 326.5C443.8 330 444.9 333.8 445.3 335.2"/>
<path class="t" d="M418.9 322.7L427.7 319.6"/>
<path d="M424 337.8C425.8 337.3 431.7 336.1 435.2 335.2C438.8 334.4 443.6 333.2 445.3 332.7"/>
<path d="M402.7 276C405.6 275.8 414.4 275.4 420.3 274.8C426.1 274.2 432 273.5 437.8 272.5C443.7 271.5 449.8 270 455.4 269C461 268 468.6 266.8 471.2 266.3"/>
<path d="M425.5 285.7C427 283.6 431.1 277.2 434.3 273.4C437.5 269.6 441.3 266.1 444.9 262.8C448.4 259.6 451.3 257.3 455.4 254.1C459.5 250.8 467.1 245.3 469.4 243.5"/>
<path d="M432.6 273.4C433.1 274.5 435.2 278.1 436.1 280.4C437 282.7 437.5 286.3 437.8 287.4"/>
<ellipse cx="435.5" cy="276.9" rx="1.8" ry="1.8"/>
<path d="M437.8 287.4C439.6 287.1 444.9 286.5 448.4 285.7C451.9 284.8 455.4 283.6 458.9 282.2C462.4 280.7 467.7 277.8 469.4 276.9"/>
<path d="M441.3 290.9C443.1 290.6 448.4 290.1 451.9 289.2C455.4 288.2 459.2 286.8 462.4 285.3C465.6 283.9 469.7 281.2 471.2 280.4"/>
<path d="M453.6 257.6C455.1 257.9 459.2 259.2 462.4 259.3C465.6 259.5 468.4 259 473 258.4C477.6 257.9 487.2 256.2 490 255.8"/>
<path d="M437.8 254.1C438.4 255.5 440.2 259.9 441.3 262.8C442.5 265.8 444.3 270.2 444.9 271.6"/>
<path d="M450.1 243.5C450.7 245 452.8 249.1 453.6 252.3C454.5 255.5 455.1 261.1 455.4 262.8"/>
<path class="t" d="M408.9 335.5L410.7 338.3"/>
<path class="t" d="M410.1 334.9L411.8 337.6"/>
<path class="t" d="M411.3 334.3L413 337"/>
<path class="t" d="M412.4 333.7L414.2 336.4"/>
<path class="t" d="M413.6 333.1L415.4 335.8"/>
<path class="t" d="M414.8 332.5L416.5 335.2"/>
<path class="t" d="M416 331.8L417.7 334.6"/>
<path class="t" d="M417.1 331.2L418.9 334"/>
<path class="t" d="M418.3 330.6L420.1 333.4"/>
<path class="t" d="M419.5 330L421.3 332.8"/>
<path class="t" d="M420.7 329.4L422.4 332.2"/>
<path class="t" d="M421.9 328.8L423.6 331.6"/>
<path class="t" d="M423 328.2L424.8 331"/>
<path class="t" d="M424.2 327.6L426 330.3"/>
<path class="t" d="M425.4 327L427.2 329.7"/>
<path class="t" d="M426.6 326.4L428.3 329.1"/>
<path class="t" d="M427.8 325.8L429.5 328.5"/>
<path class="t" d="M428.9 325.2L430.7 327.9"/>
<path class="t" d="M430.1 324.5L431.9 327.3"/>
<path class="t" d="M431.3 323.9L433 326.7"/>
<path class="t" d="M432.5 323.3L434.2 326.1"/>
<path class="t" d="M433.6 322.7L435.4 325.5"/>
<path class="t" d="M434.8 322.1L436.6 324.9"/>
<path class="t" d="M436 321.5L437.8 324.3"/>
<path class="t" d="M437.2 320.9L438.9 323.7"/>
<path class="t" d="M438.4 320.3L440.1 323"/>
<path class="t" d="M439.5 319.7L441.3 322.4"/>
<path class="t" d="M440.7 319.1L442.5 321.8"/>
<path class="t" d="M441.9 318.5L443.7 321.2"/>
<path class="t" d="M443.1 317.9L444.8 320.6"/>
<path class="t" d="M444.3 317.2L446 320"/>
<path class="t" d="M445.4 316.6L447.2 319.4"/>
<path class="t" d="M446.6 316L448.4 318.8"/>
<path class="t" d="M447.8 315.4L449.5 318.2"/>
<defs><pattern id="mesh" width="2.5" height="2.5" patternUnits="userSpaceOnUse" patternTransform="rotate(35)"><rect width="2.5" height="2.5" style="fill:#fff;stroke:none"/><path d="M0 .5H2.5M.5 0V2.5" style="stroke:#111;stroke-width:.95;fill:none"/></pattern></defs>
<path class="mesh" d="M308.3 317L312 315.7L320.2 321.4L329 332.7L320.2 338.9L311.4 345.2L307.6 340.2L305.8 330.2Z"/>
<path d="M320.2 290C321.2 291.5 324.4 295.9 326.5 298.8C328.6 301.7 330.9 304.7 332.7 307.6C334.6 310.4 336.9 314.4 337.8 315.7"/>
<path d="M321.7 290C322.7 291.5 325.9 295.9 328 298.8C330.1 301.7 332.5 305 334.2 307.6C336 310.2 337.7 313.3 338.4 314.5"/>
<path d="M325.2 323.2C326.3 323.4 329.8 322.5 331.5 323.9C333.2 325.2 334.6 330.2 335.2 331.4"/>
<path class="m" d="M270 296.3C272.1 296.9 277.3 299.8 282.5 300C287.8 300.2 296.1 299 301.4 297.5C306.6 296.1 311.8 292.3 313.9 291.3"/>
<path d="M303.9 332.7C304.5 333.9 306.4 338.1 307.6 340.2C308.9 342.3 310.8 344.4 311.4 345.2"/>
<path d="M301.4 340.2C301.8 341 303 343.7 303.9 345.2C304.7 346.7 306 348.3 306.4 349"/>
<path d="M298.9 345.2C299.3 345.8 300.6 347.7 301.4 349C302.1 350.2 302.9 352.1 303.2 352.7"/>
<path d="M307.6 330.2L311.4 345.2"/>
<clipPath id="cp958347567"><path clip-rule="evenodd" d="M-10 -10H830V570H-10ZM300 160L400 160L400 230L300 230Z"/></clipPath><g clip-path="url(#cp958347567)">
<path class="m" d="M379.2 143.2C378.3 143.3 375.4 143.3 373.9 143.7C372.4 144.1 371.1 144.8 370.1 145.8C369 146.8 368 148.2 367.8 149.7C367.5 151.1 367.8 153.2 368.6 154.6C369.5 156 371.3 157.5 373 158.1C374.8 158.7 378.2 158.4 379.2 158.5"/>
<path d="M379.2 146.7C378.5 146.8 376 146.7 374.8 147.2C373.6 147.7 372.5 148.6 372.2 149.7C371.9 150.8 371.9 152.8 373 153.7C374.2 154.6 378.2 154.7 379.2 154.9"/>
<path d="M369.5 151.1L375.7 152"/>
<path d="M358.1 156.3C359 155.8 362.1 154 363.4 152.8C364.7 151.7 365.6 149.9 366 149.3"/>
<path class="t" d="M330 173C331.8 172.2 337 169.4 340.5 167.8C344.1 166.2 348.4 164.7 351.1 163.4C353.7 162.1 355.5 160.4 356.3 159.9"/>
</g>
<clipPath id="cp834127007"><path clip-rule="evenodd" d="M300 160L400 160L400 230L300 230Z"/></clipPath><g clip-path="url(#cp834127007)">
<path class="b" d="M312.5 157.5C312.3 158.7 311.9 162.1 311.3 165C310.7 167.9 309.8 171.3 308.8 175.1C307.7 178.8 306.5 184 305 187.6C303.6 191.2 300.8 194.9 300 196.4"/>
<path class="m" d="M325.1 158.7C324.6 159.8 323 162.9 322 165C320.9 167.1 319.6 169.7 318.8 171.3C318.1 172.9 317.8 173.9 317.6 174.4"/>
<path d="M327 158.7C326.5 159.8 324.9 162.9 323.8 165C322.8 167.2 321.5 169.9 320.7 171.5C319.9 173.2 319.3 174.5 319.1 175.1"/>
<path class="t" d="M316.3 158.7C315.9 160.2 314.6 164.6 313.8 167.5C313 170.5 312.3 173 311.3 176.3C310.2 179.7 308.2 185.7 307.5 187.6"/>
<path class="t" d="M318.8 163.8L322 165"/>
<path class="t" d="M317.6 166.9L320.7 168.2"/>
<path class="t" d="M316.3 170L319.4 171.3"/>
<path class="b" d="M360.2 159.4C358.6 160.2 353.3 162.8 350.2 164.4C347.1 166 344.5 167.3 341.4 168.8C338.3 170.2 334.5 171.8 331.4 173.2C328.2 174.5 324 176.3 322.6 176.9"/>
<path d="M322.6 176.9C322 176.6 319.9 175.8 318.8 175.1C317.8 174.3 316.7 173 316.3 172.5"/>
<path d="M322.6 176.9C324 176.5 328.2 175 331.4 174.1C334.5 173.2 337.2 172.2 341.4 171.5C345.6 170.9 351.7 170.5 356.5 170C361.3 169.6 366.7 169.1 370.3 168.8C373.8 168.5 376.5 168.3 377.8 168.2"/>
<path d="M323.8 178.8C325.3 178.3 329.5 176.6 332.6 175.7C335.8 174.7 338.7 173.8 342.7 173.2C346.6 172.5 351.9 172.2 356.5 171.8C361.1 171.4 366.9 170.8 370.3 170.5C373.7 170.2 375.7 170.1 376.8 170"/>
<path class="m" d="M377.8 168.2C377.4 169.1 376.7 171.4 375.3 173.8C373.8 176.2 371.3 179.9 369 182.6C366.7 185.3 362.7 188.9 361.5 190.1"/>
<path d="M375.3 168.8C374.9 169.7 374.2 171.8 372.8 174.1C371.4 176.3 368.9 179.8 366.8 182.3C364.6 184.8 361.1 188 360 189.1"/>
<path d="M340.2 172.5C341.8 172.5 346.8 172.1 350.2 172C353.5 171.9 356 171.8 360.2 171.9C364.4 172 372.8 172.4 375.3 172.5"/>
<path d="M330.1 178.8C329.9 179.6 329.3 181.7 329.1 183.2C328.9 184.7 328.9 186.9 328.9 187.6"/>
<path d="M327 180.1C326.8 180.8 326.2 183.1 326.1 184.5C326 185.8 326.3 187.6 326.3 188.2"/>
<path class="m" d="M318.8 187.6C320.9 187.5 327.2 187 331.4 187C335.5 187 339.1 187.1 343.9 187.6C348.7 188.1 357.5 189.7 360.2 190.1"/>
<path d="M318.8 189.1C320.9 189 327.2 188.6 331.4 188.6C335.5 188.6 339.3 188.9 343.9 189.4C348.5 189.9 356.5 191.2 359 191.6"/>
<path d="M325.1 191.4C326.8 191.3 331.8 190.7 335.1 190.7C338.5 190.7 343.5 191.3 345.2 191.4"/>
<path class="m" d="M328.9 192C330.1 192.4 334.1 193.6 336.4 194.5C338.7 195.4 341.6 197.1 342.7 197.6"/>
<path d="M332.6 195.8C333.7 196.1 337 196.9 338.9 197.6C340.8 198.4 343.1 199.7 343.9 200.2"/>
<path class="m" d="M300 197.6C301.3 196.8 305 194.1 307.5 192.9C310 191.6 312.1 190.6 315.1 190.1C318 189.7 321.7 189.5 325.1 190.1C328.4 190.7 332 192 335.1 193.9C338.3 195.8 341.8 199.4 343.9 201.4C346 203.4 347.1 205.1 347.7 205.8"/>
<path class="m" d="M316.3 203.9C317.8 204.6 322 207.4 325.1 208.3C328.2 209.2 332 209.4 335.1 209.2C338.3 209 342.5 207.4 343.9 207.1"/>
<path d="M307.5 191.4C308.8 192.4 313.2 195.3 315.1 197.6C316.9 199.9 318.2 203.9 318.8 205.2"/>
<path d="M300 200.2C301.3 199.8 304.8 197.3 307.5 197.9C310.2 198.5 314.8 202.9 316.3 203.9"/>
<path class="m" d="M347.7 205.8C348.3 206.3 350.7 207.4 351.4 208.9C352.2 210.5 352.2 211.7 352.2 215.2C352.2 218.7 351.6 227.5 351.4 230"/>
<path d="M346.2 206.7C346.8 207.2 349.2 208.2 349.9 209.7C350.7 211.2 350.7 212.4 350.7 215.8C350.7 219.2 350.1 227.6 349.9 230"/>
<path d="M316.3 203.9C315.7 205.4 314.4 209.6 312.5 212.7C310.7 215.8 307.1 220.2 305 222.7C302.9 225.2 300.8 226.9 300 227.8"/>
<path d="M331.4 209.6C330.7 210.7 329.5 213.8 327.6 216.5C325.7 219.1 322.2 223 320.1 225.2C318 227.5 315.9 229.2 315.1 230"/>
<path d="M328.9 215.2C329.9 216.5 333.7 220.6 335.1 222.7C336.6 224.8 337.2 226.9 337.6 227.8"/>
<path d="M343.9 207.7C344.5 208.5 346.9 210.8 347.7 212.7C348.4 214.6 349.4 217.5 348.3 219C347.3 220.4 344 220.9 341.4 221.5C338.8 222.1 334.1 222.5 332.6 222.7"/>
<path class="b" d="M301.3 225.2C302.7 224.9 307.1 224 310 223.4C313 222.7 317.4 221.8 318.8 221.5"/>
<path d="M302.5 227.1C304 226.8 308.4 225.9 311.3 225.2C314.2 224.6 318.6 223.7 320.1 223.4"/>
<path d="M300 210.2C301.3 209.8 304.8 208.7 307.5 207.7C310.2 206.6 314.8 204.5 316.3 203.9"/>
<path d="M325.1 208.3C324.7 209.7 324 213.6 322.6 216.5C321.1 219.3 317.4 223.8 316.3 225.2"/>
<path class="t" d="M381.6 193.9C379.9 195.5 374 200.6 371.5 203.9C369 207.3 367.6 210.8 366.5 214C365.3 217.1 364.8 220.1 364.6 222.7C364.4 225.4 365.1 228.8 365.2 230"/>
<path d="M381.6 192C382.6 193 385.5 196 387.8 198.3C390.1 200.5 394.1 204.2 395.4 205.4"/>
<path d="M383.1 190.7C384.1 191.8 387 194.8 389.3 197C391.6 199.3 395.6 203 396.9 204.2"/>
<ellipse cx="396" cy="206.7" rx="1.8" ry="1.8"/>
</g>
</g>
<g>
<path class="co" d="M268.9 215.3L229.9 185.6A55.25 55.25 0 1 0 223.0 198.0Z"/>
<path class="co" d="M344.9 205.2L382.6 175.0A55.4 55.4 0 1 1 390.8 188.3Z"/>
<path class="co" d="M528.4 190.9L566.0 160.7A55.6 55.6 0 1 1 573.6 173.6Z"/>
<path class="co" style="stroke-width:1.65" d="M382.2 278.1L449.8 312.9A83.7 83.7 0 1 0 456.9 292.6Z"/>
<path class="co" style="stroke-width:1.65" d="M336.6 255.4L338.7 331.4A83.8 83.8 0 1 0 361.3 326.9Z"/>
</g>
<g class="s">
<path class="g w" d="M180.6 148.2L195 141.5L210.8 157.6L212.2 180.4L196.4 187.8L181.5 170.6Z"/>
<path class="g" d="M181.3 149.6L194.6 143.1L209.5 158L210.8 179.4L196.4 186.4L182.3 170.1Z"/>
<path class="g" d="M182.1 151.2L194.1 145.4L207.6 159.2L208.7 178.5L195.9 184.4L183 169.8Z"/>
<path class="kh w" d="M182.9 153.4L193.2 147.8L204.8 161.3L205.7 177.6L195 181.8L183.8 169.7Z"/>
<path class="g w" d="M212.2 162.4L218 162.4L218 173.4L212.2 173.4Z"/>
<path class="g" d="M216 162.4L216 173.4"/>
<path class="p" d="M193.6 154.9C193.7 156 193.9 158.8 194.1 161.3C194.3 163.7 194.7 167.3 195 169.7C195.3 172.1 195.8 174.7 195.9 175.7"/>
<path class="p" d="M193.8 157.1C193 157.4 190.2 158.2 189 158.9C187.8 159.7 186.9 160.6 186.6 161.7C186.4 162.9 186.9 164.9 187.6 165.9C188.3 167 189.6 167.9 190.8 168C192 168.1 194.1 166.7 194.7 166.4"/>
<path class="p" d="M194.2 158.3C195 159 197.7 161.2 199.2 162.7C200.7 164.1 202.3 165.6 202.9 166.9C203.6 168.1 203.5 169.4 202.9 170.1C202.4 170.9 200.9 171.3 199.7 171.2C198.4 171.2 196.2 170.1 195.5 169.8"/>
<path class="k1 w" d="M314.1 377.4C314.2 374.9 314.1 372 315.2 369.5C316.3 366.9 317.9 364.1 320.5 362C323.2 359.9 327.6 358.3 331.2 356.7C334.7 355.1 339 353 341.9 352.4C344.7 351.8 346.3 352.2 348.3 353C350.2 353.9 352.2 355.1 353.6 357.3C355 359.5 355.5 361.9 356.8 366.3C358 370.6 359.6 377.6 361.1 383.3C362.5 389 363.9 394.7 365.3 400.4C366.7 406.1 368.3 412.5 369.6 417.5C370.9 422.4 372.3 427.4 373 430.3C373.7 433.1 374.1 433.1 373.9 434.5C373.6 435.9 374.5 436.8 371.3 438.8C368.1 440.7 360.4 443.8 354.7 446.2C348.9 448.7 340.3 453.2 336.5 453.7C332.8 454.2 333.6 452.4 332.3 449.4C330.9 446.5 330.1 440.8 328.6 435.8C327.2 430.8 325.4 425.6 323.7 419.6C322 413.6 319.9 405.8 318.4 400C316.9 394.1 315.5 388.2 314.8 384.4C314.1 380.6 314.1 379.8 314.1 377.4Z"/>
<path d="M322.7 379.1C323 377.6 323.4 372.8 324.8 370.5C326.2 368.2 328.3 367 331.2 365.2C334 363.4 339 360.9 341.9 359.9C344.7 358.8 347.2 359 348.3 358.8"/>
<path d="M322.7 379.1C323.1 381.5 324.1 388.7 325.2 394C326.4 399.3 328 405.4 329.5 411.1C331 416.7 333 422.4 334.4 428.1C335.8 433.8 337.4 442.3 338 445.2"/>
<path d="M337.6 364.1C338.3 367.3 340.4 376.9 341.9 383.3C343.3 389.7 344.7 396.1 346.1 402.5C347.5 408.9 348.9 415.5 350.4 421.7C351.9 427.9 354.3 436.8 355.1 439.8"/>
<path d="M338 446.9C340.1 446.1 345.8 444 350.4 442.2C354.9 440.3 361.6 437.5 365.3 435.8C369.1 434.1 371.7 432.6 373 432"/>
<path d="M337.2 443.5C339.4 442.6 345.9 440.2 350.4 438.4C354.9 436.5 360.6 434 364.3 432.4C367.9 430.7 370.8 429.2 372.1 428.5"/>
<path d="M314.8 384.4C315.4 383.6 317.1 380.4 318.4 379.5C319.7 378.6 321.9 379.1 322.7 379.1"/>
<path class="k" d="M318.4 403.6C318.2 404.2 317.1 405.9 317.1 407.2C317.1 408.5 317.8 410.5 318.4 411.5C319 412.5 320.5 412.9 321 413.2"/>
<ellipse class="k1 w" cx="326.7" cy="448.1" rx="9.2" ry="11.9" transform="rotate(-8 326.7 448.1)"/>
<ellipse class="k w" cx="327.6" cy="448.3" rx="3.7" ry="4.4" transform="rotate(-8 327.6 448.3)"/>
<path class="k w" d="M339.2 454L349.7 451.8L350.6 456.9L342.3 460.2Z"/>
<path class="k1 w" d="M390.2 409.5V385.2Q390.2 379.2 396.2 379.2H420.7Q426.7 379.2 426.7 385.2V409.5Z"/>
<rect class="g2" x="392.3" y="386.5" width="32.4" height="20" rx="1"/>
<path class="ic" d="M393.6 402.6C393.8 401.9 394.8 400.7 395.7 399.7C396.7 398.7 397.9 397.7 399.3 396.5C400.8 395.2 402.4 393.2 404.3 392.2C406.3 391.1 408.8 390.8 410.8 390.2C412.8 389.5 415.3 388.4 416.5 388.3C417.7 388.1 418.1 388.6 418.1 389.3C418.1 390 417 391.8 416.5 392.6C416 393.3 415.1 393.3 415.1 393.8C415.1 394.2 416.8 395 416.5 395.4C416.3 395.9 414.5 396.5 413.7 396.5C412.8 396.5 412.6 395.4 411.5 395.4C410.4 395.4 408.6 395.9 407.2 396.5C405.8 397.1 404.2 397.9 402.9 399C401.6 400.1 400.2 402 399.3 402.9C398.5 403.9 398.4 404.7 397.9 404.7C397.4 404.8 397.1 403.5 396.5 403.3C395.9 403.1 394.8 403.9 394.3 403.8C393.8 403.7 393.4 403.3 393.6 402.6Z"/>
<path class="k" d="M399.3 403.1C400.3 402.6 402.7 401.1 405.1 400.2C407.4 399.4 411.5 398.5 413.7 398.1C415.8 397.7 417.2 397.8 418 397.8"/>
<path class="ic2" d="M415.8 399C416.1 398.6 418.4 398.1 419.4 397.8C420.4 397.5 421.7 397 421.9 397.3C422.1 397.7 420.8 398.8 420.8 399.7C420.9 400.6 422.5 402 422.2 402.6C422 403.2 420.3 403.4 419.4 403.3C418.4 403.2 416.8 402.7 416.5 402.2C416.2 401.7 417.7 401 417.6 400.4C417.5 399.9 415.5 399.4 415.8 399Z"/>
<rect class="k8 w" x="472.5" y="319.5" width="122" height="26" rx="2.4"/>
<rect class="pl" x="474.5" y="321.5" width="118" height="22" rx="1.2"/>
<rect class="k w" x="476.5" y="323" width="17" height="19.5"/>
<path class="k" d="M493.5 323.3L476.9 342.5"/>
<rect class="ic2" x="481.5" y="339.8" width="11.5" height="2.4"/>
<path class="pw" d="M479.6 337.5V325.8H483Q486.2 325.8 486.2 328.8Q486.2 331.8 483 331.8H479.6"/>
<rect class="k" x="495.5" y="333.5" width="95.5" height="8"/>
<path class="k" d="M526.8 333.5L526.8 341.8"/>
<path class="k" d="M559.2 333.5L559.2 341.8"/>
<rect x="657" y="243" width="36" height="43.7" style="fill:#fbfbfb;stroke:#ddd;stroke-width:.5;stroke-dasharray:.7 1"/>
<rect x="657" y="258.2" width="36" height="28.5" style="fill:#cecece;stroke:none"/>
<path class="dog" d="M662 245.5L663.8 247L666.5 245.5L667.8 247.4L668.1 251.1L670.8 253.3L677.3 254.4L682.6 253.8L686.9 256.5L688.9 261.9L688.5 265.6L687.2 266.2L685.9 261.9L684.2 260.3L682.6 263L681.6 265.6L679.9 265.1L680.5 261.3L678.3 260.8L677.3 264L675.6 266.2L674.2 265.1L675.1 261.3L672.4 261.3L671.3 264L670.3 265.6L669.2 264.6L669.7 261.3L667.8 261.9L666 266.2L663.3 268.3L662.4 267.3L664.1 263.5L663.5 259.2L662.2 255.4L661.1 252.7L660.1 250.1L660.9 247.4Z"/>
<path class="dogt" d="M682.6 254.1C682.6 253.7 682.7 252.1 682.4 251.3C682.1 250.6 681.3 249.7 680.7 249.6C680.1 249.6 678.9 250.4 678.8 250.9C678.6 251.4 679.5 252.2 679.6 252.4"/>
<path class="fl" d="M668.1 249C668.2 248.6 669.6 247.6 670.8 247.4C672 247.2 673.9 247.5 675.1 247.7C676.3 247.9 678 248.4 677.8 248.8C677.6 249.1 675.3 249.5 674 249.6C672.8 249.8 671.3 249.7 670.3 249.6C669.3 249.5 668 249.4 668.1 249Z"/>
</g>
<g class="tx">
<line class="ld" x1="152" y1="163.5" x2="180.5" y2="163.5"/>
<text class="n" x="146.5" y="168">1</text>
<line class="ld" x1="531.5" y1="347" x2="531.5" y2="367.4"/>
<text class="n" x="531.7" y="378.6">2</text>
<line class="ld" x1="612.5" y1="152.4" x2="612.5" y2="174"/>
<text class="n" x="612.3" y="185.3">3</text>
<line class="ld" x1="429.5" y1="166.4" x2="429.5" y2="186.5"/>
<text class="n" x="429.5" y="197.6">4</text>
<line class="ld" x1="408.5" y1="410" x2="408.5" y2="438.6"/>
<text class="n" x="408.3" y="450.5">5</text>
<line class="ld" x1="676.5" y1="290.2" x2="676.5" y2="309"/>
<text class="n" x="676.3" y="322.2">6</text>
<text class="b300" x="402.8" y="159.7" textLength="61.5" lengthAdjust="spacingAndGlyphs">300ie</text>
<text class="bev" x="583" y="145.3" textLength="74.5" lengthAdjust="spacingAndGlyphs">Beverly</text>
<text class="pt" x="496" y="331.2" textLength="95" lengthAdjust="spacingAndGlyphs">PIAGGIO TECHNOLOGY</text>
<text class="eni" x="661.4" y="286.3" textLength="27.8" lengthAdjust="spacingAndGlyphs">eni</text>
</g>
</svg>
</body></html>
